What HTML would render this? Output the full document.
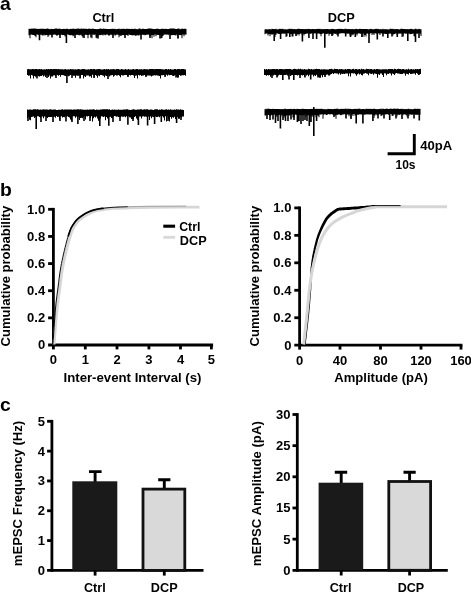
<!DOCTYPE html>
<html lang="en"><head><meta charset="utf-8"><title>Figure</title>
<style>html,body{margin:0;padding:0;background:#fff}svg{display:block}svg text{font-family:"Liberation Sans",sans-serif;font-weight:bold}</style></head>
<body>
<svg width="471" height="592" viewBox="0 0 471 592" font-family="Liberation Sans, sans-serif" font-weight="bold" fill="#000">
<rect width="471" height="592" fill="#fff"/>
<polygon points="28.5,28.8 29.5,28.8 29.5,29.0 30.5,29.0 30.5,28.5 31.5,28.5 31.5,28.7 32.5,28.7 32.5,28.6 33.5,28.6 33.5,28.6 34.5,28.6 34.5,28.6 35.5,28.6 35.5,28.7 36.5,28.7 36.5,28.8 37.5,28.8 37.5,28.9 38.5,28.9 38.5,28.8 39.5,28.8 39.5,29.0 40.5,29.0 40.5,28.6 41.5,28.6 41.5,29.1 42.5,29.1 42.5,28.5 43.5,28.5 43.5,29.0 44.5,29.0 44.5,28.8 45.5,28.8 45.5,28.9 46.5,28.9 46.5,28.6 47.5,28.6 47.5,28.6 48.5,28.6 48.5,29.1 49.5,29.1 49.5,29.2 50.5,29.2 50.5,28.7 51.5,28.7 51.5,29.0 52.5,29.0 52.5,29.1 53.5,29.1 53.5,29.1 54.5,29.1 54.5,28.6 55.5,28.6 55.5,28.5 56.5,28.5 56.5,28.6 57.5,28.6 57.5,29.1 58.5,29.1 58.5,28.6 59.5,28.6 59.5,28.8 60.5,28.8 60.5,29.2 61.5,29.2 61.5,28.9 62.5,28.9 62.5,29.0 63.5,29.0 63.5,28.7 64.5,28.7 64.5,29.0 65.5,29.0 65.5,29.1 66.5,29.1 66.5,28.5 67.5,28.5 67.5,29.0 68.5,29.0 68.5,29.2 69.5,29.2 69.5,29.0 70.5,29.0 70.5,28.7 71.5,28.7 71.5,29.1 72.5,29.1 72.5,28.6 73.5,28.6 73.5,28.8 74.5,28.8 74.5,29.1 75.5,29.1 75.5,28.7 76.5,28.7 76.5,28.7 77.5,28.7 77.5,28.6 78.5,28.6 78.5,28.5 79.5,28.5 79.5,29.0 80.5,29.0 80.5,28.6 81.5,28.6 81.5,28.7 82.5,28.7 82.5,28.8 83.5,28.8 83.5,28.5 84.5,28.5 84.5,28.9 85.5,28.9 85.5,28.6 86.5,28.6 86.5,28.9 87.5,28.9 87.5,29.0 88.5,29.0 88.5,28.6 89.5,28.6 89.5,28.8 90.5,28.8 90.5,29.0 91.5,29.0 91.5,28.8 92.5,28.8 92.5,28.5 93.5,28.5 93.5,28.9 94.5,28.9 94.5,29.0 95.5,29.0 95.5,28.9 96.5,28.9 96.5,29.2 97.5,29.2 97.5,28.9 98.5,28.9 98.5,29.1 99.5,29.1 99.5,28.6 100.5,28.6 100.5,28.6 101.5,28.6 101.5,29.1 102.5,29.1 102.5,28.8 103.5,28.8 103.5,28.6 104.5,28.6 104.5,29.1 105.5,29.1 105.5,28.7 106.5,28.7 106.5,29.0 107.5,29.0 107.5,29.0 108.5,29.0 108.5,29.1 109.5,29.1 109.5,28.9 110.5,28.9 110.5,29.0 111.5,29.0 111.5,28.7 112.5,28.7 112.5,28.7 113.5,28.7 113.5,29.1 114.5,29.1 114.5,28.8 115.5,28.8 115.5,29.2 116.5,29.2 116.5,29.0 117.5,29.0 117.5,28.9 118.5,28.9 118.5,28.6 119.5,28.6 119.5,29.2 120.5,29.2 120.5,28.8 121.5,28.8 121.5,28.9 122.5,28.9 122.5,28.8 123.5,28.8 123.5,28.7 124.5,28.7 124.5,29.1 125.5,29.1 125.5,28.9 126.5,28.9 126.5,28.5 127.5,28.5 127.5,28.9 128.5,28.9 128.5,28.7 129.5,28.7 129.5,28.9 130.5,28.9 130.5,29.1 131.5,29.1 131.5,28.8 132.5,28.8 132.5,29.1 133.5,29.1 133.5,28.9 134.5,28.9 134.5,28.5 135.5,28.5 135.5,29.2 136.5,29.2 136.5,29.0 137.5,29.0 137.5,29.2 138.5,29.2 138.5,28.6 139.5,28.6 139.5,28.6 140.5,28.6 140.5,29.2 141.5,29.2 141.5,29.0 142.5,29.0 142.5,28.5 143.5,28.5 143.5,29.0 144.5,29.0 144.5,29.0 145.5,29.0 145.5,29.1 146.5,29.1 146.5,29.0 147.5,29.0 147.5,28.6 148.5,28.6 148.5,28.5 149.5,28.5 149.5,28.5 150.5,28.5 150.5,28.5 151.5,28.5 151.5,28.7 152.5,28.7 152.5,29.1 153.5,29.1 153.5,28.9 154.5,28.9 154.5,28.9 155.5,28.9 155.5,29.1 156.5,29.1 156.5,28.6 157.5,28.6 157.5,28.7 158.5,28.7 158.5,28.9 159.5,28.9 159.5,29.2 160.5,29.2 160.5,28.9 161.5,28.9 161.5,28.5 162.5,28.5 162.5,29.1 163.5,29.1 163.5,28.7 164.5,28.7 164.5,29.1 165.5,29.1 165.5,28.8 166.5,28.8 166.5,29.1 167.5,29.1 167.5,29.0 168.5,29.0 168.5,28.9 169.5,28.9 169.5,28.6 170.5,28.6 170.5,28.5 171.5,28.5 171.5,28.6 172.5,28.6 172.5,28.5 173.5,28.5 173.5,28.6 174.5,28.6 174.5,28.7 175.5,28.7 175.5,29.0 176.5,29.0 176.5,28.9 177.5,28.9 177.5,28.5 178.5,28.5 178.5,28.6 179.5,28.6 179.5,29.2 180.5,29.2 180.5,28.9 181.5,28.9 181.5,28.6 182.5,28.6 182.5,28.7 183.5,28.7 183.5,29.0 184.5,29.0 184.5,28.6 185.5,28.6 185.5,28.9 186.5,28.9 186.5,34.8 185.5,34.8 185.5,34.5 184.5,34.5 184.5,36.3 183.5,36.3 183.5,34.6 182.5,34.6 182.5,38.2 181.5,38.2 181.5,35.2 180.5,35.2 180.5,34.9 179.5,34.9 179.5,34.9 178.5,34.9 178.5,38.2 177.5,38.2 177.5,34.6 176.5,34.6 176.5,35.4 175.5,35.4 175.5,35.2 174.5,35.2 174.5,34.9 173.5,34.9 173.5,35.1 172.5,35.1 172.5,35.3 171.5,35.3 171.5,35.2 170.5,35.2 170.5,34.5 169.5,34.5 169.5,35.3 168.5,35.3 168.5,34.4 167.5,34.4 167.5,34.7 166.5,34.7 166.5,34.4 165.5,34.4 165.5,34.6 164.5,34.6 164.5,34.8 163.5,34.8 163.5,36.0 162.5,36.0 162.5,38.1 161.5,38.1 161.5,38.2 160.5,38.2 160.5,35.0 159.5,35.0 159.5,34.9 158.5,34.9 158.5,35.1 157.5,35.1 157.5,34.8 156.5,34.8 156.5,36.3 155.5,36.3 155.5,34.6 154.5,34.6 154.5,36.8 153.5,36.8 153.5,35.0 152.5,35.0 152.5,38.2 151.5,38.2 151.5,35.2 150.5,35.2 150.5,36.2 149.5,36.2 149.5,34.6 148.5,34.6 148.5,34.7 147.5,34.7 147.5,34.5 146.5,34.5 146.5,35.0 145.5,35.0 145.5,35.3 144.5,35.3 144.5,34.7 143.5,34.7 143.5,34.9 142.5,34.9 142.5,34.6 141.5,34.6 141.5,35.0 140.5,35.0 140.5,34.7 139.5,34.7 139.5,35.6 138.5,35.6 138.5,35.6 137.5,35.6 137.5,35.0 136.5,35.0 136.5,36.0 135.5,36.0 135.5,35.5 134.5,35.5 134.5,35.1 133.5,35.1 133.5,35.6 132.5,35.6 132.5,35.2 131.5,35.2 131.5,35.1 130.5,35.1 130.5,34.9 129.5,34.9 129.5,34.6 128.5,34.6 128.5,36.0 127.5,36.0 127.5,34.9 126.5,34.9 126.5,35.1 125.5,35.1 125.5,34.9 124.5,34.9 124.5,35.3 123.5,35.3 123.5,35.0 122.5,35.0 122.5,35.3 121.5,35.3 121.5,35.9 120.5,35.9 120.5,35.5 119.5,35.5 119.5,37.2 118.5,37.2 118.5,34.7 117.5,34.7 117.5,34.4 116.5,34.4 116.5,34.9 115.5,34.9 115.5,35.8 114.5,35.8 114.5,34.5 113.5,34.5 113.5,34.9 112.5,34.9 112.5,35.2 111.5,35.2 111.5,34.6 110.5,34.6 110.5,35.1 109.5,35.1 109.5,35.9 108.5,35.9 108.5,34.9 107.5,34.9 107.5,34.3 106.5,34.3 106.5,35.1 105.5,35.1 105.5,35.3 104.5,35.3 104.5,34.6 103.5,34.6 103.5,35.4 102.5,35.4 102.5,34.8 101.5,34.8 101.5,34.9 100.5,34.9 100.5,35.2 99.5,35.2 99.5,35.1 98.5,35.1 98.5,35.5 97.5,35.5 97.5,38.2 96.5,38.2 96.5,37.7 95.5,37.7 95.5,34.6 94.5,34.6 94.5,35.1 93.5,35.1 93.5,34.4 92.5,34.4 92.5,38.2 91.5,38.2 91.5,34.5 90.5,34.5 90.5,34.3 89.5,34.3 89.5,35.1 88.5,35.1 88.5,38.2 87.5,38.2 87.5,34.9 86.5,34.9 86.5,34.8 85.5,34.8 85.5,34.8 84.5,34.8 84.5,35.1 83.5,35.1 83.5,37.7 82.5,37.7 82.5,36.2 81.5,36.2 81.5,34.7 80.5,34.7 80.5,35.2 79.5,35.2 79.5,35.2 78.5,35.2 78.5,34.8 77.5,34.8 77.5,34.9 76.5,34.9 76.5,34.8 75.5,34.8 75.5,34.7 74.5,34.7 74.5,35.4 73.5,35.4 73.5,36.3 72.5,36.3 72.5,34.9 71.5,34.9 71.5,35.3 70.5,35.3 70.5,35.2 69.5,35.2 69.5,34.9 68.5,34.9 68.5,34.5 67.5,34.5 67.5,34.3 66.5,34.3 66.5,35.7 65.5,35.7 65.5,36.5 64.5,36.5 64.5,35.1 63.5,35.1 63.5,35.0 62.5,35.0 62.5,35.1 61.5,35.1 61.5,34.6 60.5,34.6 60.5,35.2 59.5,35.2 59.5,34.8 58.5,34.8 58.5,34.9 57.5,34.9 57.5,36.0 56.5,36.0 56.5,35.1 55.5,35.1 55.5,34.6 54.5,34.6 54.5,34.4 53.5,34.4 53.5,35.1 52.5,35.1 52.5,34.5 51.5,34.5 51.5,34.9 50.5,34.9 50.5,34.7 49.5,34.7 49.5,35.4 48.5,35.4 48.5,37.1 47.5,37.1 47.5,35.0 46.5,35.0 46.5,35.0 45.5,35.0 45.5,35.4 44.5,35.4 44.5,34.7 43.5,34.7 43.5,35.8 42.5,35.8 42.5,35.3 41.5,35.3 41.5,34.6 40.5,34.6 40.5,34.9 39.5,34.9 39.5,34.9 38.5,34.9 38.5,34.8 37.5,34.8 37.5,34.4 36.5,34.4 36.5,37.2 35.5,37.2 35.5,36.1 34.5,36.1 34.5,35.1 33.5,35.1 33.5,34.9 32.5,34.9 32.5,34.8 31.5,34.8 31.5,34.6 30.5,34.6 30.5,38.2 29.5,38.2 29.5,35.3 28.5,35.3" fill="#000"/>
<path d="M39.5 29.5V40.3M66.4 29.5V43.0M52.0 29.5V37.5M60.0 29.5V38.0M75.0 29.5V38.0M84.0 29.5V38.0M91.0 29.5V37.5M98.0 29.5V38.5M113.0 29.5V38.0M125.0 29.5V38.0M141.0 29.5V39.5M150.0 29.5V38.0M160.0 29.5V38.5M170.0 29.5V39.0M178.0 29.5V38.5" stroke="#000" stroke-width="1.6" fill="none"/>
<polygon points="27.0,69.2 28.0,69.2 28.0,68.9 29.0,68.9 29.0,69.3 30.0,69.3 30.0,69.2 31.0,69.2 31.0,69.2 32.0,69.2 32.0,69.1 33.0,69.1 33.0,69.0 34.0,69.0 34.0,69.3 35.0,69.3 35.0,69.1 36.0,69.1 36.0,69.1 37.0,69.1 37.0,69.3 38.0,69.3 38.0,69.3 39.0,69.3 39.0,69.0 40.0,69.0 40.0,69.3 41.0,69.3 41.0,69.0 42.0,69.0 42.0,69.4 43.0,69.4 43.0,69.5 44.0,69.5 44.0,69.2 45.0,69.2 45.0,69.5 46.0,69.5 46.0,69.0 47.0,69.0 47.0,69.3 48.0,69.3 48.0,68.9 49.0,68.9 49.0,69.2 50.0,69.2 50.0,69.0 51.0,69.0 51.0,69.0 52.0,69.0 52.0,69.3 53.0,69.3 53.0,69.1 54.0,69.1 54.0,69.0 55.0,69.0 55.0,69.1 56.0,69.1 56.0,69.1 57.0,69.1 57.0,69.2 58.0,69.2 58.0,69.0 59.0,69.0 59.0,69.3 60.0,69.3 60.0,69.2 61.0,69.2 61.0,69.3 62.0,69.3 62.0,69.2 63.0,69.2 63.0,69.5 64.0,69.5 64.0,69.3 65.0,69.3 65.0,69.0 66.0,69.0 66.0,69.4 67.0,69.4 67.0,69.6 68.0,69.6 68.0,69.3 69.0,69.3 69.0,69.5 70.0,69.5 70.0,69.1 71.0,69.1 71.0,69.3 72.0,69.3 72.0,69.2 73.0,69.2 73.0,69.2 74.0,69.2 74.0,69.4 75.0,69.4 75.0,69.3 76.0,69.3 76.0,69.6 77.0,69.6 77.0,69.3 78.0,69.3 78.0,69.0 79.0,69.0 79.0,69.2 80.0,69.2 80.0,69.5 81.0,69.5 81.0,69.2 82.0,69.2 82.0,68.9 83.0,68.9 83.0,69.1 84.0,69.1 84.0,68.9 85.0,68.9 85.0,69.6 86.0,69.6 86.0,69.6 87.0,69.6 87.0,69.5 88.0,69.5 88.0,69.3 89.0,69.3 89.0,69.4 90.0,69.4 90.0,69.0 91.0,69.0 91.0,69.1 92.0,69.1 92.0,69.3 93.0,69.3 93.0,69.1 94.0,69.1 94.0,68.9 95.0,68.9 95.0,69.6 96.0,69.6 96.0,69.2 97.0,69.2 97.0,69.3 98.0,69.3 98.0,69.1 99.0,69.1 99.0,69.1 100.0,69.1 100.0,69.2 101.0,69.2 101.0,69.5 102.0,69.5 102.0,69.4 103.0,69.4 103.0,69.2 104.0,69.2 104.0,68.9 105.0,68.9 105.0,69.5 106.0,69.5 106.0,69.1 107.0,69.1 107.0,69.3 108.0,69.3 108.0,68.9 109.0,68.9 109.0,69.4 110.0,69.4 110.0,69.2 111.0,69.2 111.0,69.2 112.0,69.2 112.0,69.2 113.0,69.2 113.0,69.1 114.0,69.1 114.0,69.3 115.0,69.3 115.0,69.6 116.0,69.6 116.0,69.0 117.0,69.0 117.0,69.1 118.0,69.1 118.0,68.9 119.0,68.9 119.0,69.4 120.0,69.4 120.0,69.4 121.0,69.4 121.0,69.1 122.0,69.1 122.0,69.2 123.0,69.2 123.0,69.4 124.0,69.4 124.0,69.4 125.0,69.4 125.0,69.0 126.0,69.0 126.0,69.5 127.0,69.5 127.0,69.4 128.0,69.4 128.0,69.0 129.0,69.0 129.0,69.5 130.0,69.5 130.0,69.4 131.0,69.4 131.0,69.5 132.0,69.5 132.0,69.3 133.0,69.3 133.0,69.1 134.0,69.1 134.0,69.5 135.0,69.5 135.0,69.3 136.0,69.3 136.0,69.1 137.0,69.1 137.0,69.1 138.0,69.1 138.0,69.5 139.0,69.5 139.0,69.2 140.0,69.2 140.0,69.3 141.0,69.3 141.0,69.3 142.0,69.3 142.0,69.5 143.0,69.5 143.0,69.3 144.0,69.3 144.0,69.0 145.0,69.0 145.0,69.3 146.0,69.3 146.0,69.2 147.0,69.2 147.0,69.3 148.0,69.3 148.0,69.4 149.0,69.4 149.0,69.1 150.0,69.1 150.0,69.0 151.0,69.0 151.0,69.0 152.0,69.0 152.0,69.1 153.0,69.1 153.0,68.9 154.0,68.9 154.0,69.3 155.0,69.3 155.0,69.1 156.0,69.1 156.0,69.0 157.0,69.0 157.0,69.0 158.0,69.0 158.0,69.1 159.0,69.1 159.0,69.1 160.0,69.1 160.0,69.1 161.0,69.1 161.0,69.2 162.0,69.2 162.0,69.3 163.0,69.3 163.0,69.5 164.0,69.5 164.0,69.6 165.0,69.6 165.0,68.9 166.0,68.9 166.0,69.1 167.0,69.1 167.0,69.4 168.0,69.4 168.0,69.0 169.0,69.0 169.0,69.5 170.0,69.5 170.0,69.1 171.0,69.1 171.0,69.4 172.0,69.4 172.0,69.4 173.0,69.4 173.0,69.5 174.0,69.5 174.0,68.9 175.0,68.9 175.0,69.1 176.0,69.1 176.0,69.4 177.0,69.4 177.0,69.0 178.0,69.0 178.0,68.9 179.0,68.9 179.0,69.1 180.0,69.1 180.0,69.3 181.0,69.3 181.0,68.9 182.0,68.9 182.0,68.9 183.0,68.9 183.0,68.9 184.0,68.9 184.0,69.2 185.0,69.2 185.0,69.4 186.0,69.4 186.0,75.8 185.0,75.8 185.0,75.1 184.0,75.1 184.0,75.2 183.0,75.2 183.0,75.3 182.0,75.3 182.0,75.5 181.0,75.5 181.0,75.8 180.0,75.8 180.0,75.1 179.0,75.1 179.0,77.4 178.0,77.4 178.0,77.7 177.0,77.7 177.0,76.5 176.0,76.5 176.0,74.9 175.0,74.9 175.0,75.5 174.0,75.5 174.0,76.0 173.0,76.0 173.0,75.7 172.0,75.7 172.0,75.0 171.0,75.0 171.0,74.9 170.0,74.9 170.0,75.2 169.0,75.2 169.0,74.8 168.0,74.8 168.0,75.7 167.0,75.7 167.0,74.8 166.0,74.8 166.0,75.8 165.0,75.8 165.0,75.2 164.0,75.2 164.0,75.1 163.0,75.1 163.0,75.3 162.0,75.3 162.0,75.3 161.0,75.3 161.0,78.4 160.0,78.4 160.0,76.0 159.0,76.0 159.0,75.7 158.0,75.7 158.0,75.4 157.0,75.4 157.0,75.2 156.0,75.2 156.0,75.4 155.0,75.4 155.0,75.3 154.0,75.3 154.0,75.4 153.0,75.4 153.0,75.7 152.0,75.7 152.0,76.5 151.0,76.5 151.0,75.7 150.0,75.7 150.0,75.5 149.0,75.5 149.0,75.6 148.0,75.6 148.0,75.6 147.0,75.6 147.0,75.8 146.0,75.8 146.0,75.8 145.0,75.8 145.0,75.1 144.0,75.1 144.0,75.6 143.0,75.6 143.0,75.4 142.0,75.4 142.0,76.1 141.0,76.1 141.0,75.0 140.0,75.0 140.0,75.4 139.0,75.4 139.0,74.9 138.0,74.9 138.0,78.4 137.0,78.4 137.0,75.5 136.0,75.5 136.0,75.8 135.0,75.8 135.0,78.0 134.0,78.0 134.0,75.5 133.0,75.5 133.0,75.0 132.0,75.0 132.0,74.9 131.0,74.9 131.0,75.5 130.0,75.5 130.0,74.9 129.0,74.9 129.0,75.4 128.0,75.4 128.0,76.1 127.0,76.1 127.0,75.0 126.0,75.0 126.0,74.9 125.0,74.9 125.0,75.0 124.0,75.0 124.0,75.4 123.0,75.4 123.0,75.5 122.0,75.5 122.0,74.9 121.0,74.9 121.0,77.3 120.0,77.3 120.0,75.7 119.0,75.7 119.0,74.9 118.0,74.9 118.0,75.6 117.0,75.6 117.0,75.6 116.0,75.6 116.0,75.0 115.0,75.0 115.0,75.8 114.0,75.8 114.0,76.7 113.0,76.7 113.0,75.1 112.0,75.1 112.0,75.3 111.0,75.3 111.0,75.6 110.0,75.6 110.0,76.4 109.0,76.4 109.0,75.5 108.0,75.5 108.0,76.0 107.0,76.0 107.0,75.9 106.0,75.9 106.0,75.4 105.0,75.4 105.0,77.2 104.0,77.2 104.0,75.7 103.0,75.7 103.0,75.6 102.0,75.6 102.0,75.0 101.0,75.0 101.0,75.1 100.0,75.1 100.0,76.2 99.0,76.2 99.0,75.5 98.0,75.5 98.0,77.8 97.0,77.8 97.0,75.8 96.0,75.8 96.0,75.0 95.0,75.0 95.0,77.3 94.0,77.3 94.0,75.2 93.0,75.2 93.0,74.8 92.0,74.8 92.0,77.8 91.0,77.8 91.0,76.2 90.0,76.2 90.0,76.6 89.0,76.6 89.0,75.6 88.0,75.6 88.0,75.6 87.0,75.6 87.0,75.6 86.0,75.6 86.0,76.9 85.0,76.9 85.0,76.2 84.0,76.2 84.0,78.4 83.0,78.4 83.0,75.0 82.0,75.0 82.0,75.1 81.0,75.1 81.0,78.0 80.0,78.0 80.0,75.6 79.0,75.6 79.0,75.7 78.0,75.7 78.0,75.7 77.0,75.7 77.0,75.6 76.0,75.6 76.0,77.7 75.0,77.7 75.0,75.7 74.0,75.7 74.0,75.8 73.0,75.8 73.0,75.5 72.0,75.5 72.0,74.8 71.0,74.8 71.0,75.0 70.0,75.0 70.0,75.7 69.0,75.7 69.0,76.3 68.0,76.3 68.0,75.5 67.0,75.5 67.0,75.7 66.0,75.7 66.0,75.9 65.0,75.9 65.0,75.7 64.0,75.7 64.0,75.2 63.0,75.2 63.0,75.0 62.0,75.0 62.0,75.1 61.0,75.1 61.0,76.8 60.0,76.8 60.0,74.9 59.0,74.9 59.0,75.7 58.0,75.7 58.0,74.9 57.0,74.9 57.0,74.8 56.0,74.8 56.0,76.1 55.0,76.1 55.0,75.2 54.0,75.2 54.0,75.6 53.0,75.6 53.0,76.6 52.0,76.6 52.0,76.4 51.0,76.4 51.0,78.4 50.0,78.4 50.0,75.4 49.0,75.4 49.0,76.9 48.0,76.9 48.0,75.8 47.0,75.8 47.0,75.3 46.0,75.3 46.0,77.1 45.0,77.1 45.0,75.6 44.0,75.6 44.0,76.6 43.0,76.6 43.0,75.3 42.0,75.3 42.0,75.9 41.0,75.9 41.0,75.9 40.0,75.9 40.0,76.6 39.0,76.6 39.0,76.3 38.0,76.3 38.0,75.5 37.0,75.5 37.0,76.4 36.0,76.4 36.0,76.7 35.0,76.7 35.0,76.0 34.0,76.0 34.0,78.4 33.0,78.4 33.0,75.4 32.0,75.4 32.0,75.1 31.0,75.1 31.0,78.4 30.0,78.4 30.0,75.5 29.0,75.5 29.0,75.7 28.0,75.7 28.0,75.0 27.0,75.0" fill="#000"/>
<path d="M66.9 69.9V83.0M37.0 69.9V78.5M47.0 69.9V78.0M56.0 69.9V78.0M72.0 69.9V78.0M80.0 69.9V78.5M94.0 69.9V78.0M108.0 69.9V79.0M128.0 69.9V77.0M146.0 69.9V77.0M165.0 69.9V77.0M176.0 69.9V77.5" stroke="#000" stroke-width="1.6" fill="none"/>
<polygon points="27.0,109.6 28.0,109.6 28.0,109.7 29.0,109.7 29.0,109.4 30.0,109.4 30.0,109.6 31.0,109.6 31.0,109.8 32.0,109.8 32.0,109.8 33.0,109.8 33.0,109.3 34.0,109.3 34.0,109.3 35.0,109.3 35.0,109.2 36.0,109.2 36.0,109.5 37.0,109.5 37.0,109.2 38.0,109.2 38.0,109.5 39.0,109.5 39.0,109.7 40.0,109.7 40.0,109.4 41.0,109.4 41.0,109.7 42.0,109.7 42.0,109.6 43.0,109.6 43.0,109.2 44.0,109.2 44.0,109.6 45.0,109.6 45.0,109.4 46.0,109.4 46.0,109.5 47.0,109.5 47.0,109.4 48.0,109.4 48.0,109.7 49.0,109.7 49.0,109.5 50.0,109.5 50.0,109.3 51.0,109.3 51.0,109.6 52.0,109.6 52.0,109.7 53.0,109.7 53.0,109.4 54.0,109.4 54.0,109.4 55.0,109.4 55.0,109.5 56.0,109.5 56.0,109.9 57.0,109.9 57.0,109.9 58.0,109.9 58.0,109.7 59.0,109.7 59.0,109.8 60.0,109.8 60.0,109.8 61.0,109.8 61.0,109.5 62.0,109.5 62.0,109.3 63.0,109.3 63.0,109.7 64.0,109.7 64.0,109.6 65.0,109.6 65.0,109.5 66.0,109.5 66.0,109.4 67.0,109.4 67.0,109.5 68.0,109.5 68.0,109.5 69.0,109.5 69.0,109.4 70.0,109.4 70.0,109.4 71.0,109.4 71.0,109.5 72.0,109.5 72.0,109.8 73.0,109.8 73.0,109.6 74.0,109.6 74.0,109.4 75.0,109.4 75.0,109.4 76.0,109.4 76.0,109.5 77.0,109.5 77.0,109.3 78.0,109.3 78.0,109.3 79.0,109.3 79.0,109.6 80.0,109.6 80.0,109.3 81.0,109.3 81.0,109.5 82.0,109.5 82.0,109.5 83.0,109.5 83.0,109.7 84.0,109.7 84.0,109.7 85.0,109.7 85.0,109.7 86.0,109.7 86.0,109.7 87.0,109.7 87.0,109.5 88.0,109.5 88.0,109.7 89.0,109.7 89.0,109.4 90.0,109.4 90.0,109.6 91.0,109.6 91.0,109.4 92.0,109.4 92.0,109.5 93.0,109.5 93.0,109.2 94.0,109.2 94.0,109.4 95.0,109.4 95.0,109.9 96.0,109.9 96.0,109.4 97.0,109.4 97.0,109.7 98.0,109.7 98.0,109.7 99.0,109.7 99.0,109.7 100.0,109.7 100.0,109.5 101.0,109.5 101.0,109.6 102.0,109.6 102.0,109.2 103.0,109.2 103.0,109.3 104.0,109.3 104.0,109.3 105.0,109.3 105.0,109.3 106.0,109.3 106.0,109.3 107.0,109.3 107.0,109.3 108.0,109.3 108.0,109.6 109.0,109.6 109.0,109.3 110.0,109.3 110.0,109.9 111.0,109.9 111.0,109.7 112.0,109.7 112.0,109.6 113.0,109.6 113.0,109.7 114.0,109.7 114.0,109.4 115.0,109.4 115.0,109.8 116.0,109.8 116.0,109.8 117.0,109.8 117.0,109.7 118.0,109.7 118.0,109.5 119.0,109.5 119.0,109.8 120.0,109.8 120.0,109.7 121.0,109.7 121.0,109.7 122.0,109.7 122.0,109.8 123.0,109.8 123.0,109.6 124.0,109.6 124.0,109.5 125.0,109.5 125.0,109.6 126.0,109.6 126.0,109.3 127.0,109.3 127.0,109.3 128.0,109.3 128.0,109.7 129.0,109.7 129.0,109.7 130.0,109.7 130.0,109.9 131.0,109.9 131.0,109.8 132.0,109.8 132.0,109.6 133.0,109.6 133.0,109.3 134.0,109.3 134.0,109.5 135.0,109.5 135.0,109.8 136.0,109.8 136.0,109.8 137.0,109.8 137.0,109.5 138.0,109.5 138.0,109.5 139.0,109.5 139.0,109.4 140.0,109.4 140.0,109.3 141.0,109.3 141.0,109.3 142.0,109.3 142.0,109.8 143.0,109.8 143.0,109.6 144.0,109.6 144.0,109.3 145.0,109.3 145.0,109.5 146.0,109.5 146.0,109.2 147.0,109.2 147.0,109.3 148.0,109.3 148.0,109.7 149.0,109.7 149.0,109.7 150.0,109.7 150.0,109.5 151.0,109.5 151.0,109.4 152.0,109.4 152.0,109.7 153.0,109.7 153.0,109.9 154.0,109.9 154.0,109.5 155.0,109.5 155.0,109.2 156.0,109.2 156.0,109.2 157.0,109.2 157.0,109.3 158.0,109.3 158.0,109.9 159.0,109.9 159.0,109.6 160.0,109.6 160.0,109.8 161.0,109.8 161.0,109.3 162.0,109.3 162.0,109.4 163.0,109.4 163.0,109.7 164.0,109.7 164.0,109.8 165.0,109.8 165.0,109.4 166.0,109.4 166.0,109.2 167.0,109.2 167.0,109.8 168.0,109.8 168.0,109.4 169.0,109.4 169.0,109.7 170.0,109.7 170.0,109.3 171.0,109.3 171.0,109.7 172.0,109.7 172.0,109.8 173.0,109.8 173.0,109.7 174.0,109.7 174.0,109.5 175.0,109.5 175.0,109.7 176.0,109.7 176.0,109.3 177.0,109.3 177.0,109.4 178.0,109.4 178.0,109.5 179.0,109.5 179.0,109.8 180.0,109.8 180.0,109.3 181.0,109.3 181.0,109.8 182.0,109.8 182.0,109.8 183.0,109.8 183.0,109.9 184.0,109.9 184.0,116.5 183.0,116.5 183.0,116.5 182.0,116.5 182.0,117.4 181.0,117.4 181.0,116.8 180.0,116.8 180.0,118.7 179.0,118.7 179.0,118.8 178.0,118.8 178.0,117.0 177.0,117.0 177.0,116.7 176.0,116.7 176.0,119.0 175.0,119.0 175.0,116.8 174.0,116.8 174.0,117.7 173.0,117.7 173.0,117.3 172.0,117.3 172.0,118.8 171.0,118.8 171.0,117.1 170.0,117.1 170.0,121.5 169.0,121.5 169.0,119.3 168.0,119.3 168.0,116.6 167.0,116.6 167.0,121.5 166.0,121.5 166.0,116.2 165.0,116.2 165.0,120.6 164.0,120.6 164.0,117.5 163.0,117.5 163.0,116.3 162.0,116.3 162.0,116.9 161.0,116.9 161.0,116.2 160.0,116.2 160.0,117.2 159.0,117.2 159.0,116.6 158.0,116.6 158.0,117.0 157.0,117.0 157.0,117.0 156.0,117.0 156.0,116.4 155.0,116.4 155.0,117.6 154.0,117.6 154.0,116.9 153.0,116.9 153.0,116.8 152.0,116.8 152.0,118.2 151.0,118.2 151.0,116.4 150.0,116.4 150.0,119.9 149.0,119.9 149.0,116.6 148.0,116.6 148.0,117.8 147.0,117.8 147.0,116.8 146.0,116.8 146.0,116.5 145.0,116.5 145.0,116.8 144.0,116.8 144.0,116.2 143.0,116.2 143.0,116.5 142.0,116.5 142.0,118.5 141.0,118.5 141.0,116.4 140.0,116.4 140.0,116.6 139.0,116.6 139.0,117.0 138.0,117.0 138.0,119.8 137.0,119.8 137.0,118.5 136.0,118.5 136.0,116.2 135.0,116.2 135.0,116.9 134.0,116.9 134.0,119.1 133.0,119.1 133.0,118.9 132.0,118.9 132.0,119.0 131.0,119.0 131.0,117.4 130.0,117.4 130.0,117.2 129.0,117.2 129.0,116.1 128.0,116.1 128.0,116.9 127.0,116.9 127.0,116.3 126.0,116.3 126.0,117.3 125.0,117.3 125.0,116.6 124.0,116.6 124.0,116.7 123.0,116.7 123.0,116.8 122.0,116.8 122.0,116.6 121.0,116.6 121.0,117.2 120.0,117.2 120.0,117.1 119.0,117.1 119.0,116.9 118.0,116.9 118.0,116.5 117.0,116.5 117.0,116.8 116.0,116.8 116.0,116.3 115.0,116.3 115.0,116.1 114.0,116.1 114.0,116.5 113.0,116.5 113.0,118.3 112.0,118.3 112.0,118.1 111.0,118.1 111.0,116.7 110.0,116.7 110.0,117.1 109.0,117.1 109.0,120.4 108.0,120.4 108.0,118.4 107.0,118.4 107.0,117.1 106.0,117.1 106.0,120.3 105.0,120.3 105.0,116.4 104.0,116.4 104.0,116.9 103.0,116.9 103.0,116.4 102.0,116.4 102.0,116.2 101.0,116.2 101.0,118.4 100.0,118.4 100.0,116.5 99.0,116.5 99.0,120.7 98.0,120.7 98.0,118.5 97.0,118.5 97.0,116.5 96.0,116.5 96.0,117.5 95.0,117.5 95.0,116.7 94.0,116.7 94.0,118.3 93.0,118.3 93.0,121.5 92.0,121.5 92.0,116.3 91.0,116.3 91.0,117.9 90.0,117.9 90.0,116.3 89.0,116.3 89.0,116.1 88.0,116.1 88.0,116.6 87.0,116.6 87.0,116.3 86.0,116.3 86.0,119.6 85.0,119.6 85.0,116.3 84.0,116.3 84.0,117.0 83.0,117.0 83.0,118.3 82.0,118.3 82.0,117.7 81.0,117.7 81.0,118.1 80.0,118.1 80.0,120.1 79.0,120.1 79.0,116.7 78.0,116.7 78.0,117.7 77.0,117.7 77.0,116.6 76.0,116.6 76.0,117.7 75.0,117.7 75.0,116.3 74.0,116.3 74.0,116.2 73.0,116.2 73.0,116.6 72.0,116.6 72.0,120.4 71.0,120.4 71.0,119.5 70.0,119.5 70.0,117.5 69.0,117.5 69.0,117.0 68.0,117.0 68.0,116.2 67.0,116.2 67.0,116.6 66.0,116.6 66.0,116.2 65.0,116.2 65.0,117.3 64.0,117.3 64.0,117.1 63.0,117.1 63.0,117.4 62.0,117.4 62.0,116.3 61.0,116.3 61.0,116.6 60.0,116.6 60.0,119.6 59.0,119.6 59.0,116.8 58.0,116.8 58.0,116.9 57.0,116.9 57.0,116.1 56.0,116.1 56.0,117.7 55.0,117.7 55.0,116.8 54.0,116.8 54.0,117.0 53.0,117.0 53.0,116.4 52.0,116.4 52.0,116.9 51.0,116.9 51.0,117.1 50.0,117.1 50.0,117.0 49.0,117.0 49.0,116.9 48.0,116.9 48.0,117.9 47.0,117.9 47.0,117.2 46.0,117.2 46.0,116.2 45.0,116.2 45.0,116.6 44.0,116.6 44.0,118.2 43.0,118.2 43.0,116.4 42.0,116.4 42.0,116.4 41.0,116.4 41.0,117.7 40.0,117.7 40.0,116.9 39.0,116.9 39.0,116.3 38.0,116.3 38.0,116.2 37.0,116.2 37.0,117.7 36.0,117.7 36.0,116.9 35.0,116.9 35.0,117.9 34.0,117.9 34.0,116.6 33.0,116.6 33.0,116.8 32.0,116.8 32.0,117.1 31.0,117.1 31.0,120.2 30.0,120.2 30.0,119.7 29.0,119.7 29.0,116.7 28.0,116.7 28.0,118.2 27.0,118.2" fill="#000"/>
<path d="M36.2 110.2V129.0M28.0 110.2V121.0M41.0 110.2V122.0M46.0 110.2V121.0M53.0 110.2V122.0M60.0 110.2V121.0M66.0 110.2V121.5M72.0 110.2V122.0M77.9 110.2V124.0M84.0 110.2V121.0M90.0 110.2V121.0M99.8 110.2V126.0M108.8 110.2V125.8M113.0 110.2V122.0M120.0 110.2V121.0M127.9 110.2V124.8M133.0 110.2V121.0M138.4 110.2V125.0M147.6 110.2V125.5M154.6 110.2V124.0M161.3 110.2V122.0M168.0 110.2V121.0M176.6 110.2V123.0M181.0 110.2V120.0" stroke="#000" stroke-width="1.6" fill="none"/>
<polygon points="264.5,29.4 265.5,29.4 265.5,29.1 266.5,29.1 266.5,29.4 267.5,29.4 267.5,29.2 268.5,29.2 268.5,29.2 269.5,29.2 269.5,28.9 270.5,28.9 270.5,29.4 271.5,29.4 271.5,28.7 272.5,28.7 272.5,28.9 273.5,28.9 273.5,29.0 274.5,29.0 274.5,29.2 275.5,29.2 275.5,28.8 276.5,28.8 276.5,29.3 277.5,29.3 277.5,29.4 278.5,29.4 278.5,28.8 279.5,28.8 279.5,29.1 280.5,29.1 280.5,28.7 281.5,28.7 281.5,29.0 282.5,29.0 282.5,28.7 283.5,28.7 283.5,29.4 284.5,29.4 284.5,29.0 285.5,29.0 285.5,29.4 286.5,29.4 286.5,29.3 287.5,29.3 287.5,29.3 288.5,29.3 288.5,28.8 289.5,28.8 289.5,28.8 290.5,28.8 290.5,29.1 291.5,29.1 291.5,28.8 292.5,28.8 292.5,29.2 293.5,29.2 293.5,29.0 294.5,29.0 294.5,29.1 295.5,29.1 295.5,29.4 296.5,29.4 296.5,29.1 297.5,29.1 297.5,28.8 298.5,28.8 298.5,28.8 299.5,28.8 299.5,29.1 300.5,29.1 300.5,29.1 301.5,29.1 301.5,29.1 302.5,29.1 302.5,29.0 303.5,29.0 303.5,29.2 304.5,29.2 304.5,29.0 305.5,29.0 305.5,29.1 306.5,29.1 306.5,29.2 307.5,29.2 307.5,28.8 308.5,28.8 308.5,29.0 309.5,29.0 309.5,29.1 310.5,29.1 310.5,29.2 311.5,29.2 311.5,28.9 312.5,28.9 312.5,29.1 313.5,29.1 313.5,29.1 314.5,29.1 314.5,29.3 315.5,29.3 315.5,29.0 316.5,29.0 316.5,29.1 317.5,29.1 317.5,28.8 318.5,28.8 318.5,29.0 319.5,29.0 319.5,28.8 320.5,28.8 320.5,29.3 321.5,29.3 321.5,29.0 322.5,29.0 322.5,29.3 323.5,29.3 323.5,29.0 324.5,29.0 324.5,29.3 325.5,29.3 325.5,29.0 326.5,29.0 326.5,28.9 327.5,28.9 327.5,29.1 328.5,29.1 328.5,29.3 329.5,29.3 329.5,29.3 330.5,29.3 330.5,29.1 331.5,29.1 331.5,28.8 332.5,28.8 332.5,29.1 333.5,29.1 333.5,28.9 334.5,28.9 334.5,29.2 335.5,29.2 335.5,29.3 336.5,29.3 336.5,29.1 337.5,29.1 337.5,29.1 338.5,29.1 338.5,28.7 339.5,28.7 339.5,29.1 340.5,29.1 340.5,28.8 341.5,28.8 341.5,29.1 342.5,29.1 342.5,29.0 343.5,29.0 343.5,29.2 344.5,29.2 344.5,28.7 345.5,28.7 345.5,28.8 346.5,28.8 346.5,29.2 347.5,29.2 347.5,29.1 348.5,29.1 348.5,29.1 349.5,29.1 349.5,29.3 350.5,29.3 350.5,29.0 351.5,29.0 351.5,29.3 352.5,29.3 352.5,29.1 353.5,29.1 353.5,29.3 354.5,29.3 354.5,29.2 355.5,29.2 355.5,28.8 356.5,28.8 356.5,29.0 357.5,29.0 357.5,29.3 358.5,29.3 358.5,28.9 359.5,28.9 359.5,28.8 360.5,28.8 360.5,29.0 361.5,29.0 361.5,29.0 362.5,29.0 362.5,29.1 363.5,29.1 363.5,29.0 364.5,29.0 364.5,28.9 365.5,28.9 365.5,29.0 366.5,29.0 366.5,29.0 367.5,29.0 367.5,29.3 368.5,29.3 368.5,29.4 369.5,29.4 369.5,29.1 370.5,29.1 370.5,28.8 371.5,28.8 371.5,29.2 372.5,29.2 372.5,29.2 373.5,29.2 373.5,29.3 374.5,29.3 374.5,28.9 375.5,28.9 375.5,28.7 376.5,28.7 376.5,29.1 377.5,29.1 377.5,28.8 378.5,28.8 378.5,29.2 379.5,29.2 379.5,29.3 380.5,29.3 380.5,29.0 381.5,29.0 381.5,29.4 382.5,29.4 382.5,28.8 383.5,28.8 383.5,29.4 384.5,29.4 384.5,29.0 385.5,29.0 385.5,29.2 386.5,29.2 386.5,29.2 387.5,29.2 387.5,29.4 388.5,29.4 388.5,29.4 389.5,29.4 389.5,28.7 390.5,28.7 390.5,28.7 391.5,28.7 391.5,29.1 392.5,29.1 392.5,28.7 393.5,28.7 393.5,29.2 394.5,29.2 394.5,29.1 395.5,29.1 395.5,29.2 396.5,29.2 396.5,29.0 397.5,29.0 397.5,28.9 398.5,28.9 398.5,29.4 399.5,29.4 399.5,29.2 400.5,29.2 400.5,28.7 401.5,28.7 401.5,28.8 402.5,28.8 402.5,29.1 403.5,29.1 403.5,28.9 404.5,28.9 404.5,29.0 405.5,29.0 405.5,29.2 406.5,29.2 406.5,28.9 407.5,28.9 407.5,29.3 408.5,29.3 408.5,29.2 409.5,29.2 409.5,29.1 410.5,29.1 410.5,28.8 411.5,28.8 411.5,29.0 412.5,29.0 412.5,29.2 413.5,29.2 413.5,29.4 414.5,29.4 414.5,28.8 415.5,28.8 415.5,28.8 416.5,28.8 416.5,29.2 417.5,29.2 417.5,29.3 418.5,29.3 418.5,28.8 419.5,28.8 419.5,29.3 420.5,29.3 420.5,29.3 421.5,29.3 421.5,36.0 420.5,36.0 420.5,33.8 419.5,33.8 419.5,33.3 418.5,33.3 418.5,33.6 417.5,33.6 417.5,33.9 416.5,33.9 416.5,33.2 415.5,33.2 415.5,37.0 414.5,37.0 414.5,36.0 413.5,36.0 413.5,33.4 412.5,33.4 412.5,34.0 411.5,34.0 411.5,34.0 410.5,34.0 410.5,34.3 409.5,34.3 409.5,33.4 408.5,33.4 408.5,33.8 407.5,33.8 407.5,33.2 406.5,33.2 406.5,33.9 405.5,33.9 405.5,33.5 404.5,33.5 404.5,33.3 403.5,33.3 403.5,33.7 402.5,33.7 402.5,37.0 401.5,37.0 401.5,33.6 400.5,33.6 400.5,33.8 399.5,33.8 399.5,33.4 398.5,33.4 398.5,33.8 397.5,33.8 397.5,34.8 396.5,34.8 396.5,33.2 395.5,33.2 395.5,33.9 394.5,33.9 394.5,34.0 393.5,34.0 393.5,35.2 392.5,35.2 392.5,34.3 391.5,34.3 391.5,33.5 390.5,33.5 390.5,33.7 389.5,33.7 389.5,33.5 388.5,33.5 388.5,34.1 387.5,34.1 387.5,33.9 386.5,33.9 386.5,34.0 385.5,34.0 385.5,34.1 384.5,34.1 384.5,33.5 383.5,33.5 383.5,33.7 382.5,33.7 382.5,33.6 381.5,33.6 381.5,33.3 380.5,33.3 380.5,34.9 379.5,34.9 379.5,33.5 378.5,33.5 378.5,33.6 377.5,33.6 377.5,33.8 376.5,33.8 376.5,33.5 375.5,33.5 375.5,33.3 374.5,33.3 374.5,35.1 373.5,35.1 373.5,33.5 372.5,33.5 372.5,35.0 371.5,35.0 371.5,33.1 370.5,33.1 370.5,33.8 369.5,33.8 369.5,34.3 368.5,34.3 368.5,33.3 367.5,33.3 367.5,33.7 366.5,33.7 366.5,36.6 365.5,36.6 365.5,35.1 364.5,35.1 364.5,36.8 363.5,36.8 363.5,33.4 362.5,33.4 362.5,37.0 361.5,37.0 361.5,33.5 360.5,33.5 360.5,34.0 359.5,34.0 359.5,33.1 358.5,33.1 358.5,33.7 357.5,33.7 357.5,35.6 356.5,35.6 356.5,33.8 355.5,33.8 355.5,33.2 354.5,33.2 354.5,34.1 353.5,34.1 353.5,35.3 352.5,35.3 352.5,34.6 351.5,34.6 351.5,36.0 350.5,36.0 350.5,35.6 349.5,35.6 349.5,33.7 348.5,33.7 348.5,33.5 347.5,33.5 347.5,33.9 346.5,33.9 346.5,33.1 345.5,33.1 345.5,33.5 344.5,33.5 344.5,33.3 343.5,33.3 343.5,33.2 342.5,33.2 342.5,33.3 341.5,33.3 341.5,33.2 340.5,33.2 340.5,33.4 339.5,33.4 339.5,33.7 338.5,33.7 338.5,34.0 337.5,34.0 337.5,35.0 336.5,35.0 336.5,33.8 335.5,33.8 335.5,34.1 334.5,34.1 334.5,33.6 333.5,33.6 333.5,35.2 332.5,35.2 332.5,34.6 331.5,34.6 331.5,33.8 330.5,33.8 330.5,34.1 329.5,34.1 329.5,35.8 328.5,35.8 328.5,33.6 327.5,33.6 327.5,34.0 326.5,34.0 326.5,34.1 325.5,34.1 325.5,33.7 324.5,33.7 324.5,33.6 323.5,33.6 323.5,33.2 322.5,33.2 322.5,34.1 321.5,34.1 321.5,36.3 320.5,36.3 320.5,34.0 319.5,34.0 319.5,33.6 318.5,33.6 318.5,33.5 317.5,33.5 317.5,33.7 316.5,33.7 316.5,33.3 315.5,33.3 315.5,33.6 314.5,33.6 314.5,33.2 313.5,33.2 313.5,33.4 312.5,33.4 312.5,33.5 311.5,33.5 311.5,33.4 310.5,33.4 310.5,34.0 309.5,34.0 309.5,33.2 308.5,33.2 308.5,33.8 307.5,33.8 307.5,33.3 306.5,33.3 306.5,34.0 305.5,34.0 305.5,34.0 304.5,34.0 304.5,35.6 303.5,35.6 303.5,33.8 302.5,33.8 302.5,34.8 301.5,34.8 301.5,33.3 300.5,33.3 300.5,34.0 299.5,34.0 299.5,35.6 298.5,35.6 298.5,33.9 297.5,33.9 297.5,35.3 296.5,35.3 296.5,34.0 295.5,34.0 295.5,33.7 294.5,33.7 294.5,33.7 293.5,33.7 293.5,36.5 292.5,36.5 292.5,36.4 291.5,36.4 291.5,33.9 290.5,33.9 290.5,33.9 289.5,33.9 289.5,33.5 288.5,33.5 288.5,33.2 287.5,33.2 287.5,36.2 286.5,36.2 286.5,37.0 285.5,37.0 285.5,33.4 284.5,33.4 284.5,34.1 283.5,34.1 283.5,33.3 282.5,33.3 282.5,34.1 281.5,34.1 281.5,33.7 280.5,33.7 280.5,34.0 279.5,34.0 279.5,34.0 278.5,34.0 278.5,33.7 277.5,33.7 277.5,33.2 276.5,33.2 276.5,34.8 275.5,34.8 275.5,36.9 274.5,36.9 274.5,34.1 273.5,34.1 273.5,34.0 272.5,34.0 272.5,34.9 271.5,34.9 271.5,34.0 270.5,34.0 270.5,36.3 269.5,36.3 269.5,33.9 268.5,33.9 268.5,35.6 267.5,35.6 267.5,33.5 266.5,33.5 266.5,33.4 265.5,33.4 265.5,34.2 264.5,34.2" fill="#000"/>
<path d="M274.2 29.7V41.0M280.6 29.7V39.0M289.8 29.7V37.0M296.0 29.7V36.0M302.4 29.7V41.5M308.9 29.7V38.0M313.0 29.7V39.0M316.6 29.7V39.0M324.8 29.7V47.8M332.0 29.7V36.0M338.0 29.7V36.5M345.7 29.7V36.5M350.5 29.7V37.0M355.3 29.7V37.0M362.0 29.7V37.0M369.0 29.7V43.0M377.3 29.7V39.5M383.0 29.7V36.5M387.8 29.7V38.0M392.0 29.7V36.5M397.3 29.7V37.0M403.0 29.7V36.5M407.8 29.7V41.0M415.5 29.7V42.0M419.0 29.7V38.0" stroke="#000" stroke-width="1.6" fill="none"/>
<polygon points="264.0,69.0 265.0,69.0 265.0,69.4 266.0,69.4 266.0,68.9 267.0,68.9 267.0,69.4 268.0,69.4 268.0,69.1 269.0,69.1 269.0,69.2 270.0,69.2 270.0,69.3 271.0,69.3 271.0,69.2 272.0,69.2 272.0,69.0 273.0,69.0 273.0,68.9 274.0,68.9 274.0,68.9 275.0,68.9 275.0,69.3 276.0,69.3 276.0,69.1 277.0,69.1 277.0,68.9 278.0,68.9 278.0,69.4 279.0,69.4 279.0,69.0 280.0,69.0 280.0,69.1 281.0,69.1 281.0,69.0 282.0,69.0 282.0,69.2 283.0,69.2 283.0,69.2 284.0,69.2 284.0,69.2 285.0,69.2 285.0,69.0 286.0,69.0 286.0,69.0 287.0,69.0 287.0,69.0 288.0,69.0 288.0,69.0 289.0,69.0 289.0,68.9 290.0,68.9 290.0,68.9 291.0,68.9 291.0,69.5 292.0,69.5 292.0,69.5 293.0,69.5 293.0,68.9 294.0,68.9 294.0,68.8 295.0,68.8 295.0,68.9 296.0,68.9 296.0,69.3 297.0,69.3 297.0,69.3 298.0,69.3 298.0,68.8 299.0,68.8 299.0,69.2 300.0,69.2 300.0,68.8 301.0,68.8 301.0,69.2 302.0,69.2 302.0,69.2 303.0,69.2 303.0,69.5 304.0,69.5 304.0,69.0 305.0,69.0 305.0,69.4 306.0,69.4 306.0,69.4 307.0,69.4 307.0,69.4 308.0,69.4 308.0,68.8 309.0,68.8 309.0,69.1 310.0,69.1 310.0,69.5 311.0,69.5 311.0,69.1 312.0,69.1 312.0,69.4 313.0,69.4 313.0,69.2 314.0,69.2 314.0,69.3 315.0,69.3 315.0,69.1 316.0,69.1 316.0,68.8 317.0,68.8 317.0,68.9 318.0,68.9 318.0,68.9 319.0,68.9 319.0,69.0 320.0,69.0 320.0,69.5 321.0,69.5 321.0,69.2 322.0,69.2 322.0,69.4 323.0,69.4 323.0,69.2 324.0,69.2 324.0,69.2 325.0,69.2 325.0,69.4 326.0,69.4 326.0,69.4 327.0,69.4 327.0,69.4 328.0,69.4 328.0,69.4 329.0,69.4 329.0,68.9 330.0,68.9 330.0,69.1 331.0,69.1 331.0,68.8 332.0,68.8 332.0,69.2 333.0,69.2 333.0,69.4 334.0,69.4 334.0,68.8 335.0,68.8 335.0,68.9 336.0,68.9 336.0,69.1 337.0,69.1 337.0,69.0 338.0,69.0 338.0,69.4 339.0,69.4 339.0,69.0 340.0,69.0 340.0,69.2 341.0,69.2 341.0,69.1 342.0,69.1 342.0,69.2 343.0,69.2 343.0,69.5 344.0,69.5 344.0,69.5 345.0,69.5 345.0,68.9 346.0,68.9 346.0,69.4 347.0,69.4 347.0,69.0 348.0,69.0 348.0,68.9 349.0,68.9 349.0,69.1 350.0,69.1 350.0,69.2 351.0,69.2 351.0,69.5 352.0,69.5 352.0,69.1 353.0,69.1 353.0,68.8 354.0,68.8 354.0,69.4 355.0,69.4 355.0,68.9 356.0,68.9 356.0,69.1 357.0,69.1 357.0,69.4 358.0,69.4 358.0,69.2 359.0,69.2 359.0,69.1 360.0,69.1 360.0,69.4 361.0,69.4 361.0,68.8 362.0,68.8 362.0,69.2 363.0,69.2 363.0,69.1 364.0,69.1 364.0,69.5 365.0,69.5 365.0,69.4 366.0,69.4 366.0,68.8 367.0,68.8 367.0,68.9 368.0,68.9 368.0,69.1 369.0,69.1 369.0,69.3 370.0,69.3 370.0,69.0 371.0,69.0 371.0,69.1 372.0,69.1 372.0,69.4 373.0,69.4 373.0,69.5 374.0,69.5 374.0,69.1 375.0,69.1 375.0,69.4 376.0,69.4 376.0,69.0 377.0,69.0 377.0,68.9 378.0,68.9 378.0,69.2 379.0,69.2 379.0,69.3 380.0,69.3 380.0,69.4 381.0,69.4 381.0,69.5 382.0,69.5 382.0,69.3 383.0,69.3 383.0,69.3 384.0,69.3 384.0,69.3 385.0,69.3 385.0,69.3 386.0,69.3 386.0,69.3 387.0,69.3 387.0,69.5 388.0,69.5 388.0,69.1 389.0,69.1 389.0,68.9 390.0,68.9 390.0,69.0 391.0,69.0 391.0,69.0 392.0,69.0 392.0,69.1 393.0,69.1 393.0,69.4 394.0,69.4 394.0,68.8 395.0,68.8 395.0,69.1 396.0,69.1 396.0,69.4 397.0,69.4 397.0,69.0 398.0,69.0 398.0,68.8 399.0,68.8 399.0,69.0 400.0,69.0 400.0,68.9 401.0,68.9 401.0,69.4 402.0,69.4 402.0,68.9 403.0,68.9 403.0,68.9 404.0,68.9 404.0,69.4 405.0,69.4 405.0,69.4 406.0,69.4 406.0,69.2 407.0,69.2 407.0,69.4 408.0,69.4 408.0,68.8 409.0,68.8 409.0,69.5 410.0,69.5 410.0,69.2 411.0,69.2 411.0,69.0 412.0,69.0 412.0,69.4 413.0,69.4 413.0,69.3 414.0,69.3 414.0,69.5 415.0,69.5 415.0,68.9 416.0,68.9 416.0,69.2 417.0,69.2 417.0,69.1 418.0,69.1 418.0,69.3 419.0,69.3 419.0,69.0 420.0,69.0 420.0,68.8 421.0,68.8 421.0,74.0 420.0,74.0 420.0,74.8 419.0,74.8 419.0,75.0 418.0,75.0 418.0,73.8 417.0,73.8 417.0,73.1 416.0,73.1 416.0,74.8 415.0,74.8 415.0,73.5 414.0,73.5 414.0,73.5 413.0,73.5 413.0,73.7 412.0,73.7 412.0,74.0 411.0,74.0 411.0,74.0 410.0,74.0 410.0,73.1 409.0,73.1 409.0,74.5 408.0,74.5 408.0,74.0 407.0,74.0 407.0,73.8 406.0,73.8 406.0,75.8 405.0,75.8 405.0,73.5 404.0,73.5 404.0,73.2 403.0,73.2 403.0,73.9 402.0,73.9 402.0,74.0 401.0,74.0 401.0,74.0 400.0,74.0 400.0,73.7 399.0,73.7 399.0,73.4 398.0,73.4 398.0,73.4 397.0,73.4 397.0,73.1 396.0,73.1 396.0,73.5 395.0,73.5 395.0,75.1 394.0,75.1 394.0,73.9 393.0,73.9 393.0,73.5 392.0,73.5 392.0,75.5 391.0,75.5 391.0,73.4 390.0,73.4 390.0,73.3 389.0,73.3 389.0,73.9 388.0,73.9 388.0,73.8 387.0,73.8 387.0,75.3 386.0,75.3 386.0,73.5 385.0,73.5 385.0,73.3 384.0,73.3 384.0,76.9 383.0,76.9 383.0,75.1 382.0,75.1 382.0,73.6 381.0,73.6 381.0,73.6 380.0,73.6 380.0,75.1 379.0,75.1 379.0,74.3 378.0,74.3 378.0,77.8 377.0,77.8 377.0,74.1 376.0,74.1 376.0,73.7 375.0,73.7 375.0,73.5 374.0,73.5 374.0,74.7 373.0,74.7 373.0,73.4 372.0,73.4 372.0,74.0 371.0,74.0 371.0,73.7 370.0,73.7 370.0,73.3 369.0,73.3 369.0,75.2 368.0,75.2 368.0,73.8 367.0,73.8 367.0,73.6 366.0,73.6 366.0,73.1 365.0,73.1 365.0,73.4 364.0,73.4 364.0,73.8 363.0,73.8 363.0,75.5 362.0,75.5 362.0,75.1 361.0,75.1 361.0,73.7 360.0,73.7 360.0,74.6 359.0,74.6 359.0,73.4 358.0,73.4 358.0,74.3 357.0,74.3 357.0,75.8 356.0,75.8 356.0,74.2 355.0,74.2 355.0,73.2 354.0,73.2 354.0,73.5 353.0,73.5 353.0,73.3 352.0,73.3 352.0,73.2 351.0,73.2 351.0,76.5 350.0,76.5 350.0,73.4 349.0,73.4 349.0,76.3 348.0,76.3 348.0,73.4 347.0,73.4 347.0,73.6 346.0,73.6 346.0,73.5 345.0,73.5 345.0,74.1 344.0,74.1 344.0,73.7 343.0,73.7 343.0,73.9 342.0,73.9 342.0,73.7 341.0,73.7 341.0,74.8 340.0,74.8 340.0,73.3 339.0,73.3 339.0,74.5 338.0,74.5 338.0,73.4 337.0,73.4 337.0,73.5 336.0,73.5 336.0,73.3 335.0,73.3 335.0,73.3 334.0,73.3 334.0,73.9 333.0,73.9 333.0,73.2 332.0,73.2 332.0,73.9 331.0,73.9 331.0,74.5 330.0,74.5 330.0,75.4 329.0,75.4 329.0,75.4 328.0,75.4 328.0,74.6 327.0,74.6 327.0,74.7 326.0,74.7 326.0,75.3 325.0,75.3 325.0,75.5 324.0,75.5 324.0,75.1 323.0,75.1 323.0,77.3 322.0,77.3 322.0,75.3 321.0,75.3 321.0,77.8 320.0,77.8 320.0,77.8 319.0,77.8 319.0,76.7 318.0,76.7 318.0,75.4 317.0,75.4 317.0,74.7 316.0,74.7 316.0,76.0 315.0,76.0 315.0,75.3 314.0,75.3 314.0,76.6 313.0,76.6 313.0,74.8 312.0,74.8 312.0,74.8 311.0,74.8 311.0,74.6 310.0,74.6 310.0,74.7 309.0,74.7 309.0,76.2 308.0,76.2 308.0,74.8 307.0,74.8 307.0,75.4 306.0,75.4 306.0,74.7 305.0,74.7 305.0,76.8 304.0,76.8 304.0,75.1 303.0,75.1 303.0,75.4 302.0,75.4 302.0,74.9 301.0,74.9 301.0,75.7 300.0,75.7 300.0,75.1 299.0,75.1 299.0,75.1 298.0,75.1 298.0,75.4 297.0,75.4 297.0,75.1 296.0,75.1 296.0,75.0 295.0,75.0 295.0,75.1 294.0,75.1 294.0,76.1 293.0,76.1 293.0,75.1 292.0,75.1 292.0,75.2 291.0,75.2 291.0,76.0 290.0,76.0 290.0,74.6 289.0,74.6 289.0,76.5 288.0,76.5 288.0,75.5 287.0,75.5 287.0,74.8 286.0,74.8 286.0,75.0 285.0,75.0 285.0,75.0 284.0,75.0 284.0,74.9 283.0,74.9 283.0,74.8 282.0,74.8 282.0,74.9 281.0,74.9 281.0,74.9 280.0,74.9 280.0,74.7 279.0,74.7 279.0,75.5 278.0,75.5 278.0,76.4 277.0,76.4 277.0,75.2 276.0,75.2 276.0,75.1 275.0,75.1 275.0,74.7 274.0,74.7 274.0,75.5 273.0,75.5 273.0,75.3 272.0,75.3 272.0,75.5 271.0,75.5 271.0,76.7 270.0,76.7 270.0,75.1 269.0,75.1 269.0,75.4 268.0,75.4 268.0,75.0 267.0,75.0 267.0,75.7 266.0,75.7 266.0,75.0 265.0,75.0 265.0,75.0 264.0,75.0" fill="#000"/>
<path d="M282.8 69.8V80.0M289.0 69.8V79.5M293.8 69.8V80.0M310.7 69.8V79.5M272.0 69.8V78.0M277.0 69.8V77.5M300.0 69.8V78.0M305.0 69.8V77.5M318.0 69.8V77.5M325.0 69.8V77.0" stroke="#000" stroke-width="1.6" fill="none"/>
<polygon points="264.5,109.2 265.5,109.2 265.5,108.8 266.5,108.8 266.5,109.2 267.5,109.2 267.5,108.6 268.5,108.6 268.5,108.7 269.5,108.7 269.5,109.0 270.5,109.0 270.5,109.0 271.5,109.0 271.5,108.9 272.5,108.9 272.5,108.8 273.5,108.8 273.5,109.0 274.5,109.0 274.5,108.9 275.5,108.9 275.5,109.1 276.5,109.1 276.5,109.0 277.5,109.0 277.5,109.0 278.5,109.0 278.5,109.1 279.5,109.1 279.5,109.3 280.5,109.3 280.5,109.2 281.5,109.2 281.5,108.9 282.5,108.9 282.5,109.2 283.5,109.2 283.5,109.2 284.5,109.2 284.5,108.6 285.5,108.6 285.5,109.1 286.5,109.1 286.5,109.2 287.5,109.2 287.5,109.1 288.5,109.1 288.5,109.1 289.5,109.1 289.5,109.0 290.5,109.0 290.5,108.7 291.5,108.7 291.5,109.3 292.5,109.3 292.5,108.9 293.5,108.9 293.5,108.8 294.5,108.8 294.5,109.1 295.5,109.1 295.5,109.3 296.5,109.3 296.5,108.8 297.5,108.8 297.5,109.1 298.5,109.1 298.5,109.0 299.5,109.0 299.5,109.1 300.5,109.1 300.5,109.3 301.5,109.3 301.5,108.8 302.5,108.8 302.5,108.8 303.5,108.8 303.5,108.9 304.5,108.9 304.5,109.1 305.5,109.1 305.5,109.1 306.5,109.1 306.5,108.9 307.5,108.9 307.5,109.3 308.5,109.3 308.5,108.9 309.5,108.9 309.5,108.9 310.5,108.9 310.5,109.1 311.5,109.1 311.5,108.7 312.5,108.7 312.5,108.9 313.5,108.9 313.5,109.1 314.5,109.1 314.5,109.1 315.5,109.1 315.5,108.8 316.5,108.8 316.5,108.7 317.5,108.7 317.5,108.9 318.5,108.9 318.5,108.8 319.5,108.8 319.5,109.1 320.5,109.1 320.5,108.7 321.5,108.7 321.5,108.8 322.5,108.8 322.5,109.2 323.5,109.2 323.5,109.0 324.5,109.0 324.5,109.2 325.5,109.2 325.5,109.3 326.5,109.3 326.5,109.2 327.5,109.2 327.5,108.7 328.5,108.7 328.5,109.0 329.5,109.0 329.5,108.9 330.5,108.9 330.5,108.9 331.5,108.9 331.5,109.1 332.5,109.1 332.5,109.2 333.5,109.2 333.5,109.1 334.5,109.1 334.5,108.7 335.5,108.7 335.5,109.1 336.5,109.1 336.5,108.6 337.5,108.6 337.5,108.7 338.5,108.7 338.5,109.2 339.5,109.2 339.5,108.9 340.5,108.9 340.5,108.7 341.5,108.7 341.5,109.1 342.5,109.1 342.5,108.7 343.5,108.7 343.5,109.1 344.5,109.1 344.5,108.8 345.5,108.8 345.5,108.6 346.5,108.6 346.5,109.3 347.5,109.3 347.5,108.6 348.5,108.6 348.5,109.0 349.5,109.0 349.5,108.8 350.5,108.8 350.5,109.1 351.5,109.1 351.5,109.2 352.5,109.2 352.5,109.0 353.5,109.0 353.5,109.0 354.5,109.0 354.5,108.7 355.5,108.7 355.5,109.1 356.5,109.1 356.5,108.7 357.5,108.7 357.5,108.9 358.5,108.9 358.5,108.6 359.5,108.6 359.5,108.8 360.5,108.8 360.5,109.2 361.5,109.2 361.5,109.0 362.5,109.0 362.5,109.0 363.5,109.0 363.5,108.9 364.5,108.9 364.5,109.2 365.5,109.2 365.5,108.8 366.5,108.8 366.5,108.7 367.5,108.7 367.5,109.0 368.5,109.0 368.5,108.8 369.5,108.8 369.5,109.1 370.5,109.1 370.5,108.7 371.5,108.7 371.5,109.1 372.5,109.1 372.5,109.0 373.5,109.0 373.5,108.6 374.5,108.6 374.5,109.0 375.5,109.0 375.5,109.1 376.5,109.1 376.5,109.3 377.5,109.3 377.5,109.2 378.5,109.2 378.5,109.1 379.5,109.1 379.5,108.9 380.5,108.9 380.5,108.6 381.5,108.6 381.5,109.2 382.5,109.2 382.5,108.6 383.5,108.6 383.5,109.0 384.5,109.0 384.5,109.0 385.5,109.0 385.5,108.7 386.5,108.7 386.5,108.6 387.5,108.6 387.5,109.0 388.5,109.0 388.5,108.9 389.5,108.9 389.5,108.8 390.5,108.8 390.5,108.6 391.5,108.6 391.5,109.0 392.5,109.0 392.5,108.7 393.5,108.7 393.5,108.6 394.5,108.6 394.5,108.8 395.5,108.8 395.5,108.8 396.5,108.8 396.5,108.7 397.5,108.7 397.5,108.6 398.5,108.6 398.5,109.1 399.5,109.1 399.5,108.9 400.5,108.9 400.5,108.8 401.5,108.8 401.5,109.0 402.5,109.0 402.5,108.8 403.5,108.8 403.5,109.2 404.5,109.2 404.5,108.9 405.5,108.9 405.5,109.0 406.5,109.0 406.5,109.3 407.5,109.3 407.5,108.8 408.5,108.8 408.5,108.8 409.5,108.8 409.5,109.3 410.5,109.3 410.5,109.0 411.5,109.0 411.5,109.3 412.5,109.3 412.5,109.3 413.5,109.3 413.5,109.1 414.5,109.1 414.5,108.6 415.5,108.6 415.5,109.0 416.5,109.0 416.5,108.8 417.5,108.8 417.5,108.7 418.5,108.7 418.5,108.9 419.5,108.9 419.5,108.7 420.5,108.7 420.5,114.8 419.5,114.8 419.5,114.3 418.5,114.3 418.5,115.0 417.5,115.0 417.5,114.8 416.5,114.8 416.5,114.7 415.5,114.7 415.5,114.8 414.5,114.8 414.5,114.1 413.5,114.1 413.5,114.8 412.5,114.8 412.5,114.4 411.5,114.4 411.5,115.1 410.5,115.1 410.5,113.9 409.5,113.9 409.5,115.7 408.5,115.7 408.5,114.3 407.5,114.3 407.5,116.4 406.5,116.4 406.5,114.8 405.5,114.8 405.5,114.5 404.5,114.5 404.5,114.2 403.5,114.2 403.5,115.2 402.5,115.2 402.5,114.1 401.5,114.1 401.5,114.2 400.5,114.2 400.5,114.8 399.5,114.8 399.5,115.0 398.5,115.0 398.5,114.6 397.5,114.6 397.5,116.5 396.5,116.5 396.5,114.2 395.5,114.2 395.5,114.5 394.5,114.5 394.5,114.6 393.5,114.6 393.5,116.0 392.5,116.0 392.5,115.8 391.5,115.8 391.5,114.1 390.5,114.1 390.5,114.0 389.5,114.0 389.5,114.9 388.5,114.9 388.5,114.5 387.5,114.5 387.5,114.1 386.5,114.1 386.5,114.5 385.5,114.5 385.5,114.5 384.5,114.5 384.5,114.3 383.5,114.3 383.5,114.7 382.5,114.7 382.5,115.4 381.5,115.4 381.5,116.0 380.5,116.0 380.5,114.2 379.5,114.2 379.5,114.3 378.5,114.3 378.5,115.0 377.5,115.0 377.5,115.2 376.5,115.2 376.5,114.2 375.5,114.2 375.5,115.6 374.5,115.6 374.5,118.1 373.5,118.1 373.5,115.0 372.5,115.0 372.5,114.3 371.5,114.3 371.5,114.5 370.5,114.5 370.5,114.5 369.5,114.5 369.5,114.6 368.5,114.6 368.5,114.3 367.5,114.3 367.5,114.5 366.5,114.5 366.5,114.2 365.5,114.2 365.5,114.7 364.5,114.7 364.5,114.7 363.5,114.7 363.5,114.6 362.5,114.6 362.5,114.4 361.5,114.4 361.5,114.4 360.5,114.4 360.5,114.3 359.5,114.3 359.5,114.4 358.5,114.4 358.5,115.0 357.5,115.0 357.5,114.5 356.5,114.5 356.5,115.6 355.5,115.6 355.5,115.5 354.5,115.5 354.5,114.0 353.5,114.0 353.5,116.0 352.5,116.0 352.5,114.6 351.5,114.6 351.5,117.9 350.5,117.9 350.5,114.4 349.5,114.4 349.5,116.2 348.5,116.2 348.5,114.6 347.5,114.6 347.5,114.6 346.5,114.6 346.5,114.5 345.5,114.5 345.5,114.2 344.5,114.2 344.5,114.2 343.5,114.2 343.5,114.6 342.5,114.6 342.5,114.8 341.5,114.8 341.5,115.2 340.5,115.2 340.5,115.1 339.5,115.1 339.5,114.0 338.5,114.0 338.5,114.9 337.5,114.9 337.5,114.7 336.5,114.7 336.5,118.8 335.5,118.8 335.5,115.4 334.5,115.4 334.5,114.7 333.5,114.7 333.5,114.7 332.5,114.7 332.5,114.2 331.5,114.2 331.5,114.0 330.5,114.0 330.5,114.8 329.5,114.8 329.5,114.1 328.5,114.1 328.5,114.3 327.5,114.3 327.5,114.9 326.5,114.9 326.5,114.9 325.5,114.9 325.5,113.9 324.5,113.9 324.5,114.7 323.5,114.7 323.5,118.8 322.5,118.8 322.5,113.9 321.5,113.9 321.5,114.8 320.5,114.8 320.5,114.5 319.5,114.5 319.5,117.3 318.5,117.3 318.5,115.8 317.5,115.8 317.5,115.2 316.5,115.2 316.5,117.2 315.5,117.2 315.5,114.9 314.5,114.9 314.5,115.3 313.5,115.3 313.5,115.4 312.5,115.4 312.5,117.0 311.5,117.0 311.5,115.4 310.5,115.4 310.5,115.5 309.5,115.5 309.5,115.2 308.5,115.2 308.5,115.3 307.5,115.3 307.5,115.2 306.5,115.2 306.5,116.8 305.5,116.8 305.5,114.6 304.5,114.6 304.5,115.5 303.5,115.5 303.5,114.8 302.5,114.8 302.5,115.6 301.5,115.6 301.5,115.1 300.5,115.1 300.5,115.3 299.5,115.3 299.5,114.8 298.5,114.8 298.5,114.7 297.5,114.7 297.5,115.0 296.5,115.0 296.5,114.7 295.5,114.7 295.5,114.6 294.5,114.6 294.5,117.4 293.5,117.4 293.5,117.5 292.5,117.5 292.5,114.6 291.5,114.6 291.5,114.8 290.5,114.8 290.5,115.5 289.5,115.5 289.5,115.5 288.5,115.5 288.5,115.1 287.5,115.1 287.5,115.1 286.5,115.1 286.5,115.9 285.5,115.9 285.5,116.0 284.5,116.0 284.5,117.8 283.5,117.8 283.5,115.5 282.5,115.5 282.5,114.8 281.5,114.8 281.5,116.5 280.5,116.5 280.5,114.7 279.5,114.7 279.5,114.9 278.5,114.9 278.5,115.3 277.5,115.3 277.5,117.0 276.5,117.0 276.5,115.5 275.5,115.5 275.5,114.8 274.5,114.8 274.5,114.6 273.5,114.6 273.5,115.0 272.5,115.0 272.5,114.8 271.5,114.8 271.5,115.6 270.5,115.6 270.5,115.9 269.5,115.9 269.5,114.9 268.5,114.9 268.5,114.9 267.5,114.9 267.5,114.6 266.5,114.6 266.5,115.5 265.5,115.5 265.5,115.4 264.5,115.4" fill="#000"/>
<path d="M267.0 109.6V119.0M270.0 109.6V120.0M273.0 109.6V119.5M278.0 109.6V121.0M283.0 109.6V120.0M288.0 109.6V121.0M294.0 109.6V120.0M299.0 109.6V121.0M303.0 109.6V121.0M307.0 109.6V121.0M311.0 109.6V122.0M275.5 109.6V123.0M280.4 109.6V128.4M285.5 109.6V121.0M291.0 109.6V119.5M297.4 109.6V122.0M301.0 109.6V124.0M305.0 109.6V120.0M309.3 109.6V126.0M313.8 109.6V136.0M316.6 109.6V121.0M334.0 109.6V117.0M356.2 109.6V123.5M362.9 109.6V123.5M351.0 109.6V119.0M346.0 109.6V118.5M372.9 109.6V121.0M378.0 109.6V118.5M384.0 109.6V118.5M389.7 109.6V120.0M396.0 109.6V118.5M402.0 109.6V119.0M408.0 109.6V118.5M414.0 109.6V118.5M419.3 109.6V120.5" stroke="#000" stroke-width="1.6" fill="none"/>
<path d="M313.8 106.9 V110" stroke="#000" stroke-width="1.6"/>
<text x="92.4" y="21.9" font-size="13" text-anchor="start" textLength="22" lengthAdjust="spacingAndGlyphs">Ctrl</text>
<text x="327.8" y="21.8" font-size="13" text-anchor="start" textLength="27" lengthAdjust="spacingAndGlyphs">DCP</text>
<text transform="translate(0.0 9.8) scale(1.09 1)" font-size="17.8">a</text>
<text transform="translate(0.1 196.3) scale(1.09 1)" font-size="17.8">b</text>
<text transform="translate(-0.1 410.8) scale(1.09 1)" font-size="17.8">c</text>
<path d="M387.6 153.7 H414.3 V133.9" fill="none" stroke="#000" stroke-width="2.9" stroke-linejoin="miter"/>
<text x="420.3" y="150.1" font-size="12.5" text-anchor="start" textLength="32" lengthAdjust="spacingAndGlyphs">40pA</text>
<text x="395.5" y="168.6" font-size="12.5" text-anchor="start" textLength="20" lengthAdjust="spacingAndGlyphs">10s</text>
<path d="M53.4 207.90 V349.40" stroke="#000" stroke-width="2.8" fill="none"/>
<path d="M48.10 345.00 H213.10" stroke="#000" stroke-width="2.8" fill="none"/>
<path d="M48.10 209.30 H53.4" stroke="#000" stroke-width="2.8" fill="none"/>
<text transform="translate(45.2 213.7) scale(1.05 1)" font-size="12.4" text-anchor="end">1.0</text>
<path d="M48.10 236.44 H53.4" stroke="#000" stroke-width="2.8" fill="none"/>
<text transform="translate(45.2 240.8) scale(1.05 1)" font-size="12.4" text-anchor="end">0.8</text>
<path d="M48.10 263.58 H53.4" stroke="#000" stroke-width="2.8" fill="none"/>
<text transform="translate(45.2 268.0) scale(1.05 1)" font-size="12.4" text-anchor="end">0.6</text>
<path d="M48.10 290.72 H53.4" stroke="#000" stroke-width="2.8" fill="none"/>
<text transform="translate(45.2 295.1) scale(1.05 1)" font-size="12.4" text-anchor="end">0.4</text>
<path d="M48.10 317.86 H53.4" stroke="#000" stroke-width="2.8" fill="none"/>
<text transform="translate(45.2 322.3) scale(1.05 1)" font-size="12.4" text-anchor="end">0.2</text>
<text transform="translate(45.2 349.4) scale(1.05 1)" font-size="12.4" text-anchor="end">0</text>
<text transform="translate(53.3 364.4) scale(1.05 1)" font-size="12.4" text-anchor="middle">0</text>
<path d="M85.30 345.00 V349.40" stroke="#000" stroke-width="2.8" fill="none"/>
<text transform="translate(85.3 364.4) scale(1.05 1)" font-size="12.4" text-anchor="middle">1</text>
<path d="M117.00 345.00 V349.40" stroke="#000" stroke-width="2.8" fill="none"/>
<text transform="translate(117.0 364.4) scale(1.05 1)" font-size="12.4" text-anchor="middle">2</text>
<path d="M148.90 345.00 V349.40" stroke="#000" stroke-width="2.8" fill="none"/>
<text transform="translate(148.9 364.4) scale(1.05 1)" font-size="12.4" text-anchor="middle">3</text>
<path d="M180.50 345.00 V349.40" stroke="#000" stroke-width="2.8" fill="none"/>
<text transform="translate(180.5 364.4) scale(1.05 1)" font-size="12.4" text-anchor="middle">4</text>
<path d="M211.40 345.00 V349.40" stroke="#000" stroke-width="2.8" fill="none"/>
<text transform="translate(211.4 364.4) scale(1.05 1)" font-size="12.4" text-anchor="middle">5</text>
<text x="10.4" y="346.4" font-size="13" text-anchor="start" textLength="140.6" lengthAdjust="spacingAndGlyphs" transform="rotate(-90 10.4 346.4)">Cumulative probability</text>
<text x="63.5" y="381.9" font-size="13" text-anchor="start" textLength="138" lengthAdjust="spacingAndGlyphs">Inter-event Interval (s)</text>
<path d="M54.0 344.5 C54.1 343.1 54.3 340.1 54.7 336.0 C55.0 331.9 55.5 325.3 56.0 320.0 C56.5 314.7 57.0 309.3 57.6 304.0 C58.2 298.7 59.1 293.5 59.8 288.0 C60.5 282.5 61.2 275.9 62.0 271.0 C62.8 266.1 63.6 262.5 64.5 258.3 C65.4 254.1 66.6 249.2 67.5 245.6 C68.4 242.0 69.1 239.5 70.0 236.7 C70.9 233.9 71.8 231.1 72.8 229.0 C73.8 226.9 74.9 225.4 76.0 223.9 C77.1 222.4 77.8 221.4 79.2 220.1 C80.6 218.8 82.5 217.5 84.3 216.3 C86.1 215.1 87.9 214.1 90.0 213.1 C92.1 212.1 94.5 211.2 97.0 210.6 C99.5 210.0 101.9 209.7 104.7 209.3 C107.5 208.9 109.5 208.7 113.6 208.4 C117.7 208.1 123.2 207.9 129.5 207.7 C135.8 207.5 140.0 207.4 151.7 207.3 C163.4 207.2 191.5 207.1 199.5 207.1" fill="none" stroke="#d6d6d6" stroke-width="2.9"/>
<path d="M52.8 344.5 C52.9 342.9 53.3 339.2 53.6 335.0 C53.9 330.8 54.3 324.3 54.7 319.0 C55.1 313.7 55.4 308.3 56.0 303.0 C56.6 297.7 57.4 292.5 58.1 287.0 C58.8 281.5 59.5 274.9 60.3 270.0 C61.1 265.1 61.9 261.5 62.8 257.3 C63.7 253.1 64.9 248.2 65.8 244.6 C66.7 241.0 67.4 238.5 68.3 235.7 C69.2 232.9 70.1 230.1 71.1 228.0 C72.1 225.9 73.2 224.4 74.3 222.9 C75.4 221.4 76.1 220.4 77.5 219.1 C78.9 217.8 80.8 216.5 82.6 215.3 C84.4 214.1 86.2 213.1 88.3 212.1 C90.4 211.1 92.8 210.2 95.3 209.6 C97.8 209.0 100.2 208.7 103.0 208.3 C105.8 207.9 107.8 207.7 111.9 207.4 C116.0 207.1 125.2 206.8 127.8 206.7" fill="none" stroke="#000" stroke-width="0.95"/>
<path d="M127.8 206.7 C131.5 206.6 140.3 206.4 150.0 206.3 C159.7 206.2 180.0 206.1 186.0 206.1" fill="none" stroke="#8c8c8c" stroke-width="0.7"/>
<path d="M68.3 235.7 C68.8 234.4 70.1 230.1 71.1 228.0 C72.1 225.9 73.2 224.4 74.3 222.9 C75.4 221.4 76.1 220.4 77.5 219.1 C78.9 217.8 80.8 216.5 82.6 215.3 C84.4 214.1 86.2 213.1 88.3 212.1 C90.4 211.1 92.8 210.2 95.3 209.6 C97.8 209.0 101.7 208.5 103.0 208.3" fill="none" stroke="#000" stroke-width="1.7" stroke-linecap="round"/>
<path d="M163.3 226.2 H175.1" stroke="#000" stroke-width="3.1"/>
<path d="M163.3 237.3 H175.1" stroke="#d9d9d9" stroke-width="2.9"/>
<text x="179.2" y="230.7" font-size="13" text-anchor="start" textLength="21.3" lengthAdjust="spacingAndGlyphs">Ctrl</text>
<text x="179.8" y="245.1" font-size="13" text-anchor="start" textLength="26.8" lengthAdjust="spacingAndGlyphs">DCP</text>
<path d="M299.6 206.50 V349.60" stroke="#000" stroke-width="2.8" fill="none"/>
<path d="M294.30 345.20 H462.40" stroke="#000" stroke-width="2.8" fill="none"/>
<path d="M294.30 207.90 H299.6" stroke="#000" stroke-width="2.8" fill="none"/>
<text transform="translate(291.4 212.3) scale(1.05 1)" font-size="12.4" text-anchor="end">1.0</text>
<path d="M294.30 235.36 H299.6" stroke="#000" stroke-width="2.8" fill="none"/>
<text transform="translate(291.4 239.8) scale(1.05 1)" font-size="12.4" text-anchor="end">0.8</text>
<path d="M294.30 262.82 H299.6" stroke="#000" stroke-width="2.8" fill="none"/>
<text transform="translate(291.4 267.2) scale(1.05 1)" font-size="12.4" text-anchor="end">0.6</text>
<path d="M294.30 290.28 H299.6" stroke="#000" stroke-width="2.8" fill="none"/>
<text transform="translate(291.4 294.7) scale(1.05 1)" font-size="12.4" text-anchor="end">0.4</text>
<path d="M294.30 317.74 H299.6" stroke="#000" stroke-width="2.8" fill="none"/>
<text transform="translate(291.4 322.1) scale(1.05 1)" font-size="12.4" text-anchor="end">0.2</text>
<text transform="translate(291.4 349.6) scale(1.05 1)" font-size="12.4" text-anchor="end">0</text>
<text transform="translate(299.7 364.6) scale(1.05 1)" font-size="12.4" text-anchor="middle">0</text>
<path d="M340.00 345.20 V349.60" stroke="#000" stroke-width="2.8" fill="none"/>
<text transform="translate(340.0 364.6) scale(1.05 1)" font-size="12.4" text-anchor="middle">40</text>
<path d="M380.50 345.20 V349.60" stroke="#000" stroke-width="2.8" fill="none"/>
<text transform="translate(380.5 364.6) scale(1.05 1)" font-size="12.4" text-anchor="middle">80</text>
<path d="M421.00 345.20 V349.60" stroke="#000" stroke-width="2.8" fill="none"/>
<text transform="translate(421.0 364.6) scale(1.05 1)" font-size="12.4" text-anchor="middle">120</text>
<path d="M461.00 345.20 V349.60" stroke="#000" stroke-width="2.8" fill="none"/>
<text transform="translate(461.0 364.6) scale(1.05 1)" font-size="12.4" text-anchor="middle">160</text>
<text x="258.6" y="346.4" font-size="13" text-anchor="start" textLength="140.6" lengthAdjust="spacingAndGlyphs" transform="rotate(-90 258.6 346.4)">Cumulative probability</text>
<text x="334.3" y="382.4" font-size="13" text-anchor="start" textLength="93.5" lengthAdjust="spacingAndGlyphs">Amplitude (pA)</text>
<polygon points="305.7,344.6 305.7,344.1 305.8,343.6 305.9,343.0 306.0,342.3 306.0,341.6 306.1,340.8 306.2,339.9 306.3,339.0 306.5,338.1 306.6,337.1 306.7,336.1 306.8,335.1 306.9,334.0 307.0,332.9 307.2,331.7 307.3,330.5 307.5,329.2 307.6,327.9 307.8,326.6 307.9,325.3 308.1,323.9 308.2,322.6 308.4,321.3 308.5,320.1 308.6,318.8 308.8,317.6 308.9,316.3 309.0,315.1 309.2,313.8 309.3,312.6 309.4,311.3 309.5,310.1 309.7,308.8 309.8,307.6 309.9,306.3 310.0,305.1 310.1,303.8 310.2,302.5 310.3,301.2 310.4,299.9 310.5,298.6 310.6,297.4 310.7,296.1 310.8,294.8 310.9,293.6 311.0,292.4 311.1,291.2 311.2,290.0 311.3,288.9 311.3,287.8 311.4,286.7 311.4,285.7 311.5,284.6 311.5,283.6 311.6,282.6 311.6,281.6 311.7,280.7 311.7,279.8 311.7,278.9 311.8,278.0 311.8,277.2 311.8,276.5 311.9,275.8 311.9,275.2 311.9,274.6 311.9,274.1 311.9,273.5 311.9,272.9 312.0,272.3 312.0,271.6 312.1,270.9 312.1,270.1 312.2,269.2 312.3,268.2 312.5,267.3 312.6,266.2 312.7,265.2 312.9,264.1 313.0,263.0 313.2,261.8 313.4,260.7 313.6,259.6 313.7,258.5 313.9,257.5 314.1,256.4 314.4,255.3 314.6,254.2 314.8,253.1 315.1,252.0 315.3,250.9 315.6,249.9 315.8,248.8 316.1,247.7 316.3,246.7 316.6,245.8 316.8,244.9 317.1,244.0 317.3,243.2 317.5,242.4 317.7,241.6 317.9,240.9 318.1,240.1 318.3,239.5 318.6,238.8 318.8,238.1 319.0,237.4 319.3,236.8 319.5,236.1 319.7,235.4 320.0,234.7 320.3,234.1 320.5,233.4 320.8,232.8 321.1,232.2 321.4,231.5 321.6,230.9 321.9,230.3 322.2,229.7 322.5,229.1 322.8,228.5 323.0,228.0 323.3,227.4 323.6,226.8 323.9,226.3 324.1,225.7 324.4,225.2 324.7,224.7 325.0,224.2 325.2,223.7 325.5,223.2 325.7,222.8 326.0,222.4 326.2,222.0 326.4,221.6 326.6,221.2 326.8,220.9 327.0,220.6 327.2,220.3 327.4,220.1 327.5,219.8 327.7,219.5 327.9,219.3 328.2,219.0 328.4,218.7 328.6,218.4 328.9,218.1 329.2,217.8 329.5,217.5 329.8,217.2 330.1,216.9 330.4,216.6 330.7,216.3 331.0,216.0 331.4,215.7 331.7,215.4 332.0,215.1 332.4,214.8 332.7,214.6 333.1,214.3 333.5,214.0 333.8,213.7 334.2,213.5 334.6,213.2 335.0,212.9 335.3,212.7 335.7,212.5 336.0,212.2 336.4,212.0 336.7,211.8 337.0,211.6 337.2,211.4 337.4,211.3 337.6,211.2 337.8,211.1 337.9,211.0 338.0,210.9 338.2,210.9 338.4,210.8 338.7,210.7 339.1,210.6 339.5,210.5 339.9,210.5 340.4,210.4 341.0,210.4 341.6,210.3 342.2,210.3 342.8,210.3 343.5,210.2 344.2,210.2 344.9,210.1 345.7,210.1 346.5,210.0 347.3,210.0 348.2,209.9 349.2,209.9 350.2,209.8 351.2,209.7 352.2,209.6 353.3,209.6 354.3,209.5 355.3,209.4 356.2,209.4 357.1,209.3 358.0,209.2 358.8,209.2 359.5,209.1 360.2,209.1 360.9,209.0 361.6,209.0 362.2,209.0 362.9,208.9 363.5,208.9 364.1,208.8 364.8,208.8 365.4,208.7 366.1,208.6 366.9,208.6 367.7,208.5 368.5,208.4 369.4,208.3 370.2,208.2 371.1,208.2 371.9,208.1 372.6,208.0 373.4,207.9 374.0,207.8 374.5,207.8 374.9,207.7 374.7,204.9 374.2,204.9 373.7,205.0 373.0,205.0 372.3,205.1 371.6,205.2 370.8,205.3 369.9,205.4 369.1,205.4 368.2,205.5 367.4,205.6 366.6,205.7 365.9,205.8 365.2,205.8 364.5,205.9 363.9,205.9 363.3,206.0 362.6,206.0 362.0,206.1 361.4,206.1 360.7,206.1 360.0,206.2 359.3,206.2 358.6,206.3 357.8,206.4 356.9,206.4 356.0,206.5 355.1,206.5 354.1,206.6 353.1,206.7 352.0,206.8 351.0,206.8 350.0,206.9 349.0,207.0 348.0,207.0 347.1,207.1 346.3,207.2 345.5,207.2 344.8,207.3 344.0,207.3 343.3,207.3 342.7,207.4 342.0,207.4 341.4,207.4 340.7,207.5 340.2,207.5 339.6,207.6 339.0,207.7 338.5,207.8 338.0,207.9 337.6,208.0 337.2,208.1 336.9,208.3 336.5,208.4 336.3,208.6 336.0,208.8 335.8,208.9 335.5,209.1 335.3,209.2 335.1,209.4 334.8,209.6 334.5,209.8 334.1,210.0 333.8,210.3 333.4,210.5 333.0,210.8 332.6,211.1 332.1,211.4 331.7,211.7 331.3,212.0 330.9,212.3 330.5,212.6 330.2,212.9 329.8,213.2 329.4,213.5 329.1,213.8 328.7,214.2 328.4,214.5 328.1,214.8 327.7,215.2 327.4,215.5 327.1,215.9 326.8,216.2 326.5,216.6 326.2,216.9 325.9,217.2 325.7,217.6 325.5,217.9 325.2,218.2 325.0,218.5 324.8,218.9 324.6,219.2 324.4,219.5 324.3,219.9 324.1,220.2 323.8,220.6 323.6,221.0 323.4,221.5 323.1,222.0 322.9,222.4 322.6,222.9 322.3,223.5 322.1,224.0 321.8,224.6 321.5,225.1 321.3,225.7 321.0,226.3 320.7,226.9 320.4,227.5 320.2,228.1 319.9,228.7 319.7,229.3 319.4,229.9 319.1,230.6 318.8,231.2 318.6,231.9 318.3,232.5 318.1,233.2 317.8,233.9 317.5,234.6 317.3,235.3 317.1,236.0 316.9,236.7 316.6,237.4 316.4,238.1 316.2,238.8 316.0,239.5 315.8,240.3 315.6,241.0 315.4,241.8 315.2,242.6 315.0,243.5 314.8,244.3 314.5,245.3 314.3,246.2 314.1,247.3 313.8,248.3 313.6,249.4 313.4,250.5 313.1,251.6 312.9,252.7 312.7,253.8 312.4,255.0 312.2,256.1 312.1,257.1 311.9,258.2 311.7,259.3 311.5,260.4 311.4,261.6 311.2,262.7 311.1,263.8 311.0,264.9 310.8,266.0 310.7,267.1 310.6,268.1 310.5,269.0 310.5,269.9 310.4,270.7 310.3,271.5 310.3,272.2 310.3,272.8 310.3,273.4 310.3,274.0 310.3,274.6 310.3,275.2 310.3,275.8 310.2,276.5 310.2,277.2 310.2,278.0 310.2,278.8 310.2,279.7 310.1,280.6 310.1,281.6 310.1,282.5 310.1,283.5 310.0,284.6 310.0,285.6 310.0,286.7 309.9,287.7 309.9,288.8 309.8,290.0 309.8,291.1 309.7,292.3 309.6,293.5 309.6,294.7 309.5,296.0 309.4,297.3 309.3,298.6 309.2,299.8 309.1,301.1 309.0,302.4 308.9,303.7 308.8,304.9 308.7,306.2 308.6,307.4 308.5,308.7 308.3,309.9 308.2,311.2 308.1,312.4 308.0,313.7 307.8,314.9 307.7,316.2 307.6,317.4 307.4,318.7 307.3,319.9 307.2,321.2 307.0,322.5 306.9,323.8 306.7,325.1 306.6,326.5 306.4,327.8 306.3,329.1 306.1,330.3 306.0,331.6 305.9,332.7 305.7,333.9 305.6,334.9 305.5,335.9 305.4,336.9 305.3,337.9 305.2,338.9 305.0,339.8 304.9,340.6 304.9,341.4 304.8,342.2 304.7,342.9 304.6,343.5 304.6,344.0 304.5,344.4" fill="#000"/>
<path d="M303.6 344.5 C303.8 342.9 304.2 339.1 304.7 335.0 C305.2 330.9 305.9 325.0 306.4 320.0 C306.9 315.0 307.4 310.0 307.9 305.0 C308.4 300.0 308.7 295.0 309.3 290.0 C309.9 285.0 310.9 278.3 311.4 275.0 C311.9 271.7 311.7 272.9 312.3 270.0 C312.9 267.1 314.1 261.5 315.2 257.3 C316.3 253.1 317.7 248.2 319.0 244.6 C320.3 241.0 321.3 238.5 322.8 235.7 C324.3 232.9 326.2 230.1 327.9 228.0 C329.6 225.9 331.2 224.4 333.0 222.9 C334.8 221.4 336.8 220.3 338.8 219.1 C340.8 217.9 343.0 216.8 345.1 215.9 C347.2 215.0 349.4 214.2 351.5 213.4 C353.6 212.6 355.5 211.6 357.9 210.8 C360.3 210.0 363.2 209.4 366.0 208.8 C368.8 208.2 371.6 207.5 374.8 207.2 C378.0 206.8 372.9 206.8 385.0 206.7 C397.1 206.6 436.8 206.7 447.1 206.7" fill="none" stroke="#d6d6d6" stroke-width="3.0"/>
<path d="M372 205.6 H400.6" stroke="#000" stroke-width="0.9"/>
<path d="M51.9 419.90 V571.80" stroke="#000" stroke-width="2.8" fill="none"/>
<path d="M47.10 570.40 H203.50" stroke="#000" stroke-width="2.8" fill="none"/>
<path d="M47.10 421.30 H51.9" stroke="#000" stroke-width="2.8" fill="none"/>
<text transform="translate(45.1 425.7) scale(1.05 1)" font-size="12.4" text-anchor="end">5</text>
<path d="M47.10 451.12 H51.9" stroke="#000" stroke-width="2.8" fill="none"/>
<text transform="translate(45.1 455.5) scale(1.05 1)" font-size="12.4" text-anchor="end">4</text>
<path d="M47.10 480.94 H51.9" stroke="#000" stroke-width="2.8" fill="none"/>
<text transform="translate(45.1 485.3) scale(1.05 1)" font-size="12.4" text-anchor="end">3</text>
<path d="M47.10 510.76 H51.9" stroke="#000" stroke-width="2.8" fill="none"/>
<text transform="translate(45.1 515.2) scale(1.05 1)" font-size="12.4" text-anchor="end">2</text>
<path d="M47.10 540.58 H51.9" stroke="#000" stroke-width="2.8" fill="none"/>
<text transform="translate(45.1 545.0) scale(1.05 1)" font-size="12.4" text-anchor="end">1</text>
<text transform="translate(45.1 574.8) scale(1.05 1)" font-size="12.4" text-anchor="end">0</text>
<path d="M89 471.6 H101.6 M95.1 471.6 V483.3" stroke="#000" stroke-width="2.9" fill="none"/>
<rect x="72.3" y="481.3" width="45.00" height="89.10" fill="#1a1a1a"/>
<path d="M95.1 570.4 V575.60" stroke="#000" stroke-width="2.8"/>
<text x="84" y="592.1" font-size="13" text-anchor="start" textLength="21.7" lengthAdjust="spacingAndGlyphs">Ctrl</text>
<path d="M158.2 479.7 H170.4 M164.3 479.7 V489.7" stroke="#000" stroke-width="2.9" fill="none"/>
<rect x="143.0" y="489.09999999999997" width="41.80" height="81.30" fill="#d9d9d9" stroke="#111" stroke-width="2.8"/>
<path d="M164.3 570.4 V575.60" stroke="#000" stroke-width="2.8"/>
<text x="150.8" y="592.1" font-size="13" text-anchor="start" textLength="26.8" lengthAdjust="spacingAndGlyphs">DCP</text>
<text x="22.4" y="566.2" font-size="13" text-anchor="start" textLength="145.3" lengthAdjust="spacingAndGlyphs" transform="rotate(-90 22.4 566.2)">mEPSC Frequency (Hz)</text>
<path d="M297.3 413.10 V571.70" stroke="#000" stroke-width="2.8" fill="none"/>
<path d="M292.50 570.30 H447.80" stroke="#000" stroke-width="2.8" fill="none"/>
<path d="M292.50 414.50 H297.3" stroke="#000" stroke-width="2.8" fill="none"/>
<text transform="translate(290.5 418.9) scale(1.05 1)" font-size="12.4" text-anchor="end">30</text>
<path d="M292.50 445.66 H297.3" stroke="#000" stroke-width="2.8" fill="none"/>
<text transform="translate(290.5 450.1) scale(1.05 1)" font-size="12.4" text-anchor="end">25</text>
<path d="M292.50 476.82 H297.3" stroke="#000" stroke-width="2.8" fill="none"/>
<text transform="translate(290.5 481.2) scale(1.05 1)" font-size="12.4" text-anchor="end">20</text>
<path d="M292.50 507.98 H297.3" stroke="#000" stroke-width="2.8" fill="none"/>
<text transform="translate(290.5 512.4) scale(1.05 1)" font-size="12.4" text-anchor="end">15</text>
<path d="M292.50 539.14 H297.3" stroke="#000" stroke-width="2.8" fill="none"/>
<text transform="translate(290.5 543.5) scale(1.05 1)" font-size="12.4" text-anchor="end">5</text>
<text transform="translate(290.5 574.7) scale(1.05 1)" font-size="12.4" text-anchor="end">0</text>
<path d="M334.8 472.3 H347.2 M341.2 472.3 V484.7" stroke="#000" stroke-width="2.9" fill="none"/>
<rect x="318.6" y="482.7" width="44.60" height="87.60" fill="#1a1a1a"/>
<path d="M341.2 570.3 V575.50" stroke="#000" stroke-width="2.8"/>
<text x="329.7" y="592.1" font-size="13" text-anchor="start" textLength="21.9" lengthAdjust="spacingAndGlyphs">Ctrl</text>
<path d="M403.5 472.3 H415.7 M409.6 472.3 V482.1" stroke="#000" stroke-width="2.9" fill="none"/>
<rect x="388.79999999999995" y="481.5" width="41.80" height="88.80" fill="#d9d9d9" stroke="#111" stroke-width="2.8"/>
<path d="M409.6 570.3 V575.50" stroke="#000" stroke-width="2.8"/>
<text x="397.7" y="592.1" font-size="13" text-anchor="start" textLength="26.5" lengthAdjust="spacingAndGlyphs">DCP</text>
<text x="261.4" y="566.3" font-size="13" text-anchor="start" textLength="145.1" lengthAdjust="spacingAndGlyphs" transform="rotate(-90 261.4 566.3)">mEPSC Amplitude (pA)</text>
</svg>
</body></html>
